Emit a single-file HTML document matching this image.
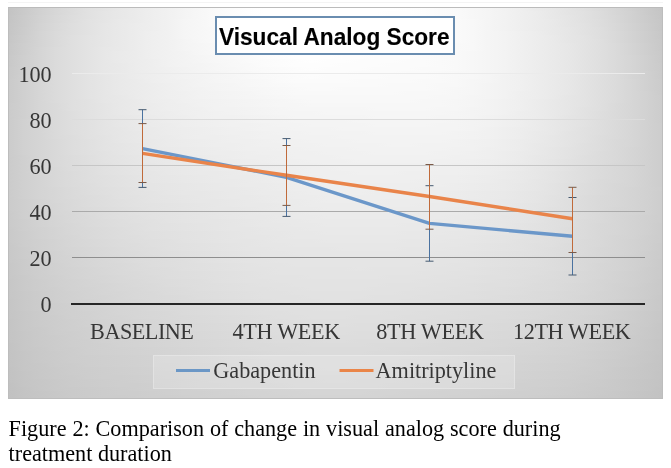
<!DOCTYPE html>
<html><head><meta charset="utf-8"><title>Visucal Analog Score</title>
<style>
html,body{margin:0;padding:0;background:#fff;}
body{width:671px;height:468px;position:relative;overflow:hidden;}
.abs{position:absolute;}
#topline{left:8px;top:2px;width:655px;height:1px;background:#f4f4f4;}
#chart{left:8px;top:7px;width:655px;height:392px;box-sizing:border-box;
  background-image:linear-gradient(90deg,#c3c3c3 0px,#cacaca 16px,#d1d1d1 32px,#d7d7d7 48px,#dcdcdc 64px,#e1e1e1 80px,#e4e4e4 96px,#e8e8e8 112px,#ebebeb 128px,#eeeeee 144px,#f1f1f1 160px,#f4f4f4 176px,#f7f7f7 192px,#fafafa 208px,#fcfcfc 224px,#fefefe 240px,#ffffff 256px,#ffffff 272px,#ffffff 288px,#ffffff 304px,#ffffff 320px,#ffffff 336px,#ffffff 352px,#ffffff 368px,#ffffff 384px,#fefefe 400px,#fdfdfd 416px,#fbfbfb 432px,#fafafa 448px,#f7f7f7 464px,#f5f5f5 480px,#f2f2f2 496px,#efefef 512px,#ebebeb 528px,#e8e8e8 544px,#e4e4e4 560px,#e0e0e0 576px,#dbdbdb 592px,#d6d6d6 608px,#d0d0d0 624px,#cacaca 640px,#c4c4c4 655px),linear-gradient(90deg,#c3c3c3 0px,#cacaca 16px,#d1d1d1 32px,#d7d7d7 48px,#dcdcdc 64px,#e1e1e1 80px,#e5e5e5 96px,#e8e8e8 112px,#ebebeb 128px,#eeeeee 144px,#f1f1f1 160px,#f4f4f4 176px,#f7f7f7 192px,#fafafa 208px,#fcfcfc 224px,#fefefe 240px,#ffffff 256px,#ffffff 272px,#ffffff 288px,#ffffff 304px,#ffffff 320px,#ffffff 336px,#ffffff 352px,#ffffff 368px,#fefefe 384px,#fefefe 400px,#fdfdfd 416px,#fbfbfb 432px,#fafafa 448px,#f7f7f7 464px,#f5f5f5 480px,#f2f2f2 496px,#efefef 512px,#ececec 528px,#e8e8e8 544px,#e4e4e4 560px,#e1e1e1 576px,#dcdcdc 592px,#d6d6d6 608px,#d1d1d1 624px,#cacaca 640px,#c5c5c5 655px),linear-gradient(90deg,#c4c4c4 0px,#cbcbcb 16px,#d2d2d2 32px,#d8d8d8 48px,#dddddd 64px,#e1e1e1 80px,#e5e5e5 96px,#e8e8e8 112px,#ebebeb 128px,#eeeeee 144px,#f1f1f1 160px,#f4f4f4 176px,#f7f7f7 192px,#fafafa 208px,#fcfcfc 224px,#fdfdfd 240px,#ffffff 256px,#ffffff 272px,#ffffff 288px,#ffffff 304px,#ffffff 320px,#ffffff 336px,#ffffff 352px,#ffffff 368px,#fefefe 384px,#fefefe 400px,#fdfdfd 416px,#fbfbfb 432px,#fafafa 448px,#f7f7f7 464px,#f5f5f5 480px,#f2f2f2 496px,#efefef 512px,#ececec 528px,#e8e8e8 544px,#e5e5e5 560px,#e1e1e1 576px,#dcdcdc 592px,#d7d7d7 608px,#d1d1d1 624px,#cbcbcb 640px,#c5c5c5 655px),linear-gradient(90deg,#c4c4c4 0px,#cbcbcb 16px,#d2d2d2 32px,#d8d8d8 48px,#dddddd 64px,#e2e2e2 80px,#e5e5e5 96px,#e9e9e9 112px,#ebebeb 128px,#eeeeee 144px,#f1f1f1 160px,#f5f5f5 176px,#f7f7f7 192px,#fafafa 208px,#fcfcfc 224px,#fdfdfd 240px,#ffffff 256px,#ffffff 272px,#ffffff 288px,#ffffff 304px,#ffffff 320px,#ffffff 336px,#ffffff 352px,#ffffff 368px,#fefefe 384px,#fefefe 400px,#fdfdfd 416px,#fbfbfb 432px,#fafafa 448px,#f8f8f8 464px,#f5f5f5 480px,#f2f2f2 496px,#efefef 512px,#ececec 528px,#e9e9e9 544px,#e5e5e5 560px,#e1e1e1 576px,#dddddd 592px,#d7d7d7 608px,#d1d1d1 624px,#cbcbcb 640px,#c6c6c6 655px),linear-gradient(90deg,#c5c5c5 0px,#cbcbcb 16px,#d3d3d3 32px,#d9d9d9 48px,#dedede 64px,#e2e2e2 80px,#e6e6e6 96px,#e9e9e9 112px,#ececec 128px,#eeeeee 144px,#f1f1f1 160px,#f5f5f5 176px,#f7f7f7 192px,#fafafa 208px,#fcfcfc 224px,#fdfdfd 240px,#fefefe 256px,#ffffff 272px,#ffffff 288px,#ffffff 304px,#ffffff 320px,#ffffff 336px,#ffffff 352px,#fefefe 368px,#fefefe 384px,#fefefe 400px,#fdfdfd 416px,#fbfbfb 432px,#fafafa 448px,#f8f8f8 464px,#f5f5f5 480px,#f2f2f2 496px,#efefef 512px,#ececec 528px,#e9e9e9 544px,#e5e5e5 560px,#e2e2e2 576px,#dddddd 592px,#d8d8d8 608px,#d2d2d2 624px,#cccccc 640px,#c6c6c6 655px),linear-gradient(90deg,#c5c5c5 0px,#cccccc 16px,#d3d3d3 32px,#d9d9d9 48px,#dedede 64px,#e2e2e2 80px,#e6e6e6 96px,#e9e9e9 112px,#ececec 128px,#eeeeee 144px,#f1f1f1 160px,#f5f5f5 176px,#f7f7f7 192px,#f9f9f9 208px,#fbfbfb 224px,#fdfdfd 240px,#fefefe 256px,#ffffff 272px,#ffffff 288px,#ffffff 304px,#ffffff 320px,#ffffff 336px,#ffffff 352px,#fefefe 368px,#fefefe 384px,#fdfdfd 400px,#fdfdfd 416px,#fbfbfb 432px,#fafafa 448px,#f8f8f8 464px,#f5f5f5 480px,#f2f2f2 496px,#efefef 512px,#ececec 528px,#e9e9e9 544px,#e6e6e6 560px,#e2e2e2 576px,#dedede 592px,#d8d8d8 608px,#d2d2d2 624px,#cccccc 640px,#c6c6c6 655px),linear-gradient(90deg,#c5c5c5 0px,#cccccc 16px,#d4d4d4 32px,#dadada 48px,#dedede 64px,#e2e2e2 80px,#e6e6e6 96px,#e9e9e9 112px,#ececec 128px,#efefef 144px,#f1f1f1 160px,#f5f5f5 176px,#f7f7f7 192px,#f9f9f9 208px,#fbfbfb 224px,#fdfdfd 240px,#fefefe 256px,#ffffff 272px,#ffffff 288px,#ffffff 304px,#ffffff 320px,#ffffff 336px,#fefefe 352px,#fefefe 368px,#fefefe 384px,#fdfdfd 400px,#fcfcfc 416px,#fbfbfb 432px,#fafafa 448px,#f8f8f8 464px,#f5f5f5 480px,#f3f3f3 496px,#f0f0f0 512px,#ededed 528px,#e9e9e9 544px,#e6e6e6 560px,#e2e2e2 576px,#dedede 592px,#d9d9d9 608px,#d3d3d3 624px,#cdcdcd 640px,#c7c7c7 655px),linear-gradient(90deg,#c6c6c6 0px,#cdcdcd 16px,#d4d4d4 32px,#dadada 48px,#dfdfdf 64px,#e3e3e3 80px,#e6e6e6 96px,#e9e9e9 112px,#ececec 128px,#efefef 144px,#f1f1f1 160px,#f5f5f5 176px,#f7f7f7 192px,#f9f9f9 208px,#fbfbfb 224px,#fcfcfc 240px,#fefefe 256px,#ffffff 272px,#ffffff 288px,#ffffff 304px,#ffffff 320px,#ffffff 336px,#fefefe 352px,#fefefe 368px,#fdfdfd 384px,#fdfdfd 400px,#fcfcfc 416px,#fbfbfb 432px,#fafafa 448px,#f8f8f8 464px,#f5f5f5 480px,#f3f3f3 496px,#f0f0f0 512px,#ededed 528px,#eaeaea 544px,#e6e6e6 560px,#e3e3e3 576px,#dedede 592px,#d9d9d9 608px,#d3d3d3 624px,#cdcdcd 640px,#c7c7c7 655px),linear-gradient(90deg,#c6c6c6 0px,#cdcdcd 16px,#d4d4d4 32px,#dadada 48px,#dfdfdf 64px,#e3e3e3 80px,#e6e6e6 96px,#e9e9e9 112px,#ececec 128px,#efefef 144px,#f1f1f1 160px,#f4f4f4 176px,#f7f7f7 192px,#f9f9f9 208px,#fbfbfb 224px,#fcfcfc 240px,#fdfdfd 256px,#fefefe 272px,#ffffff 288px,#ffffff 304px,#ffffff 320px,#fefefe 336px,#fefefe 352px,#fefefe 368px,#fdfdfd 384px,#fdfdfd 400px,#fcfcfc 416px,#fbfbfb 432px,#fafafa 448px,#f8f8f8 464px,#f5f5f5 480px,#f3f3f3 496px,#f0f0f0 512px,#ededed 528px,#eaeaea 544px,#e6e6e6 560px,#e3e3e3 576px,#dfdfdf 592px,#d9d9d9 608px,#d3d3d3 624px,#cdcdcd 640px,#c8c8c8 655px),linear-gradient(90deg,#c7c7c7 0px,#cecece 16px,#d4d4d4 32px,#dadada 48px,#dfdfdf 64px,#e3e3e3 80px,#e6e6e6 96px,#e9e9e9 112px,#ececec 128px,#efefef 144px,#f1f1f1 160px,#f4f4f4 176px,#f6f6f6 192px,#f8f8f8 208px,#fafafa 224px,#fcfcfc 240px,#fdfdfd 256px,#fefefe 272px,#ffffff 288px,#ffffff 304px,#ffffff 320px,#fefefe 336px,#fefefe 352px,#fdfdfd 368px,#fdfdfd 384px,#fdfdfd 400px,#fcfcfc 416px,#fbfbfb 432px,#f9f9f9 448px,#f8f8f8 464px,#f5f5f5 480px,#f3f3f3 496px,#f0f0f0 512px,#ededed 528px,#eaeaea 544px,#e7e7e7 560px,#e3e3e3 576px,#dfdfdf 592px,#dadada 608px,#d4d4d4 624px,#cecece 640px,#c8c8c8 655px),linear-gradient(90deg,#c7c7c7 0px,#cecece 16px,#d5d5d5 32px,#dbdbdb 48px,#dfdfdf 64px,#e3e3e3 80px,#e7e7e7 96px,#e9e9e9 112px,#ececec 128px,#efefef 144px,#f1f1f1 160px,#f4f4f4 176px,#f6f6f6 192px,#f8f8f8 208px,#fafafa 224px,#fbfbfb 240px,#fdfdfd 256px,#fefefe 272px,#fefefe 288px,#ffffff 304px,#fefefe 320px,#fefefe 336px,#fdfdfd 352px,#fdfdfd 368px,#fdfdfd 384px,#fcfcfc 400px,#fcfcfc 416px,#fbfbfb 432px,#f9f9f9 448px,#f8f8f8 464px,#f5f5f5 480px,#f3f3f3 496px,#f0f0f0 512px,#ededed 528px,#eaeaea 544px,#e7e7e7 560px,#e3e3e3 576px,#dfdfdf 592px,#dadada 608px,#d4d4d4 624px,#cecece 640px,#c8c8c8 655px),linear-gradient(90deg,#c7c7c7 0px,#cecece 16px,#d5d5d5 32px,#dbdbdb 48px,#dfdfdf 64px,#e3e3e3 80px,#e7e7e7 96px,#eaeaea 112px,#ececec 128px,#efefef 144px,#f1f1f1 160px,#f3f3f3 176px,#f6f6f6 192px,#f8f8f8 208px,#f9f9f9 224px,#fbfbfb 240px,#fcfcfc 256px,#fdfdfd 272px,#fefefe 288px,#fefefe 304px,#fefefe 320px,#fefefe 336px,#fdfdfd 352px,#fdfdfd 368px,#fcfcfc 384px,#fcfcfc 400px,#fbfbfb 416px,#fbfbfb 432px,#f9f9f9 448px,#f7f7f7 464px,#f5f5f5 480px,#f3f3f3 496px,#f0f0f0 512px,#ededed 528px,#eaeaea 544px,#e7e7e7 560px,#e3e3e3 576px,#dfdfdf 592px,#dadada 608px,#d4d4d4 624px,#cecece 640px,#c9c9c9 655px),linear-gradient(90deg,#c8c8c8 0px,#cfcfcf 16px,#d5d5d5 32px,#dbdbdb 48px,#dfdfdf 64px,#e3e3e3 80px,#e7e7e7 96px,#eaeaea 112px,#ececec 128px,#efefef 144px,#f1f1f1 160px,#f3f3f3 176px,#f5f5f5 192px,#f7f7f7 208px,#f9f9f9 224px,#fafafa 240px,#fcfcfc 256px,#fdfdfd 272px,#fefefe 288px,#fefefe 304px,#fefefe 320px,#fdfdfd 336px,#fdfdfd 352px,#fcfcfc 368px,#fcfcfc 384px,#fcfcfc 400px,#fbfbfb 416px,#fafafa 432px,#f9f9f9 448px,#f7f7f7 464px,#f5f5f5 480px,#f3f3f3 496px,#f0f0f0 512px,#ededed 528px,#eaeaea 544px,#e7e7e7 560px,#e3e3e3 576px,#dfdfdf 592px,#dadada 608px,#d5d5d5 624px,#cfcfcf 640px,#c9c9c9 655px),linear-gradient(90deg,#c8c8c8 0px,#cfcfcf 16px,#d5d5d5 32px,#dbdbdb 48px,#dfdfdf 64px,#e3e3e3 80px,#e7e7e7 96px,#eaeaea 112px,#ececec 128px,#eeeeee 144px,#f1f1f1 160px,#f3f3f3 176px,#f5f5f5 192px,#f7f7f7 208px,#f8f8f8 224px,#fafafa 240px,#fbfbfb 256px,#fcfcfc 272px,#fdfdfd 288px,#fefefe 304px,#fdfdfd 320px,#fdfdfd 336px,#fcfcfc 352px,#fcfcfc 368px,#fcfcfc 384px,#fbfbfb 400px,#fbfbfb 416px,#fafafa 432px,#f9f9f9 448px,#f7f7f7 464px,#f5f5f5 480px,#f3f3f3 496px,#f0f0f0 512px,#ededed 528px,#eaeaea 544px,#e7e7e7 560px,#e3e3e3 576px,#dfdfdf 592px,#dadada 608px,#d5d5d5 624px,#cfcfcf 640px,#c9c9c9 655px),linear-gradient(90deg,#c8c8c8 0px,#cfcfcf 16px,#d5d5d5 32px,#dbdbdb 48px,#dfdfdf 64px,#e3e3e3 80px,#e7e7e7 96px,#e9e9e9 112px,#ececec 128px,#eeeeee 144px,#f1f1f1 160px,#f3f3f3 176px,#f4f4f4 192px,#f6f6f6 208px,#f8f8f8 224px,#f9f9f9 240px,#fbfbfb 256px,#fcfcfc 272px,#fdfdfd 288px,#fdfdfd 304px,#fdfdfd 320px,#fcfcfc 336px,#fcfcfc 352px,#fcfcfc 368px,#fbfbfb 384px,#fbfbfb 400px,#fbfbfb 416px,#fafafa 432px,#f9f9f9 448px,#f7f7f7 464px,#f5f5f5 480px,#f3f3f3 496px,#f0f0f0 512px,#ededed 528px,#eaeaea 544px,#e7e7e7 560px,#e3e3e3 576px,#dfdfdf 592px,#dadada 608px,#d5d5d5 624px,#cfcfcf 640px,#cacaca 655px),linear-gradient(90deg,#c9c9c9 0px,#cfcfcf 16px,#d5d5d5 32px,#dbdbdb 48px,#dfdfdf 64px,#e3e3e3 80px,#e7e7e7 96px,#e9e9e9 112px,#ececec 128px,#eeeeee 144px,#f0f0f0 160px,#f2f2f2 176px,#f4f4f4 192px,#f6f6f6 208px,#f7f7f7 224px,#f9f9f9 240px,#fafafa 256px,#fbfbfb 272px,#fcfcfc 288px,#fdfdfd 304px,#fcfcfc 320px,#fcfcfc 336px,#fcfcfc 352px,#fbfbfb 368px,#fbfbfb 384px,#fbfbfb 400px,#fafafa 416px,#fafafa 432px,#f9f9f9 448px,#f7f7f7 464px,#f5f5f5 480px,#f3f3f3 496px,#f0f0f0 512px,#ededed 528px,#eaeaea 544px,#e7e7e7 560px,#e3e3e3 576px,#dfdfdf 592px,#dadada 608px,#d5d5d5 624px,#cfcfcf 640px,#cacaca 655px),linear-gradient(90deg,#c9c9c9 0px,#cfcfcf 16px,#d5d5d5 32px,#dbdbdb 48px,#dfdfdf 64px,#e3e3e3 80px,#e7e7e7 96px,#e9e9e9 112px,#ececec 128px,#eeeeee 144px,#f0f0f0 160px,#f2f2f2 176px,#f4f4f4 192px,#f5f5f5 208px,#f7f7f7 224px,#f8f8f8 240px,#fafafa 256px,#fbfbfb 272px,#fcfcfc 288px,#fcfcfc 304px,#fcfcfc 320px,#fcfcfc 336px,#fbfbfb 352px,#fbfbfb 368px,#fbfbfb 384px,#fafafa 400px,#fafafa 416px,#f9f9f9 432px,#f8f8f8 448px,#f7f7f7 464px,#f5f5f5 480px,#f3f3f3 496px,#f0f0f0 512px,#ededed 528px,#eaeaea 544px,#e7e7e7 560px,#e3e3e3 576px,#dfdfdf 592px,#dadada 608px,#d5d5d5 624px,#d0d0d0 640px,#cacaca 655px),linear-gradient(90deg,#c9c9c9 0px,#d0d0d0 16px,#d6d6d6 32px,#dbdbdb 48px,#dfdfdf 64px,#e3e3e3 80px,#e6e6e6 96px,#e9e9e9 112px,#ececec 128px,#eeeeee 144px,#f0f0f0 160px,#f2f2f2 176px,#f3f3f3 192px,#f5f5f5 208px,#f6f6f6 224px,#f8f8f8 240px,#f9f9f9 256px,#fafafa 272px,#fbfbfb 288px,#fcfcfc 304px,#fbfbfb 320px,#fbfbfb 336px,#fbfbfb 352px,#fbfbfb 368px,#fafafa 384px,#fafafa 400px,#fafafa 416px,#f9f9f9 432px,#f8f8f8 448px,#f7f7f7 464px,#f5f5f5 480px,#f2f2f2 496px,#f0f0f0 512px,#ededed 528px,#eaeaea 544px,#e7e7e7 560px,#e3e3e3 576px,#dfdfdf 592px,#dbdbdb 608px,#d5d5d5 624px,#d0d0d0 640px,#cacaca 655px),linear-gradient(90deg,#cacaca 0px,#d0d0d0 16px,#d6d6d6 32px,#dbdbdb 48px,#dfdfdf 64px,#e3e3e3 80px,#e6e6e6 96px,#e9e9e9 112px,#ebebeb 128px,#eeeeee 144px,#f0f0f0 160px,#f1f1f1 176px,#f3f3f3 192px,#f5f5f5 208px,#f6f6f6 224px,#f7f7f7 240px,#f8f8f8 256px,#fafafa 272px,#fbfbfb 288px,#fbfbfb 304px,#fbfbfb 320px,#fbfbfb 336px,#fafafa 352px,#fafafa 368px,#fafafa 384px,#fafafa 400px,#f9f9f9 416px,#f9f9f9 432px,#f8f8f8 448px,#f6f6f6 464px,#f5f5f5 480px,#f2f2f2 496px,#f0f0f0 512px,#ededed 528px,#eaeaea 544px,#e7e7e7 560px,#e3e3e3 576px,#dfdfdf 592px,#dbdbdb 608px,#d6d6d6 624px,#d0d0d0 640px,#cbcbcb 655px),linear-gradient(90deg,#cacaca 0px,#d0d0d0 16px,#d6d6d6 32px,#dbdbdb 48px,#dfdfdf 64px,#e3e3e3 80px,#e6e6e6 96px,#e9e9e9 112px,#ebebeb 128px,#ededed 144px,#efefef 160px,#f1f1f1 176px,#f3f3f3 192px,#f4f4f4 208px,#f5f5f5 224px,#f7f7f7 240px,#f8f8f8 256px,#f9f9f9 272px,#fafafa 288px,#fafafa 304px,#fafafa 320px,#fafafa 336px,#fafafa 352px,#fafafa 368px,#f9f9f9 384px,#f9f9f9 400px,#f9f9f9 416px,#f8f8f8 432px,#f8f8f8 448px,#f6f6f6 464px,#f4f4f4 480px,#f2f2f2 496px,#f0f0f0 512px,#ededed 528px,#eaeaea 544px,#e7e7e7 560px,#e3e3e3 576px,#dfdfdf 592px,#dbdbdb 608px,#d6d6d6 624px,#d0d0d0 640px,#cbcbcb 655px),linear-gradient(90deg,#cacaca 0px,#d0d0d0 16px,#d6d6d6 32px,#dbdbdb 48px,#dfdfdf 64px,#e3e3e3 80px,#e6e6e6 96px,#e9e9e9 112px,#ebebeb 128px,#ededed 144px,#efefef 160px,#f1f1f1 176px,#f2f2f2 192px,#f4f4f4 208px,#f5f5f5 224px,#f6f6f6 240px,#f7f7f7 256px,#f8f8f8 272px,#f9f9f9 288px,#fafafa 304px,#fafafa 320px,#f9f9f9 336px,#f9f9f9 352px,#f9f9f9 368px,#f9f9f9 384px,#f9f9f9 400px,#f9f9f9 416px,#f8f8f8 432px,#f7f7f7 448px,#f6f6f6 464px,#f4f4f4 480px,#f2f2f2 496px,#f0f0f0 512px,#ededed 528px,#eaeaea 544px,#e7e7e7 560px,#e3e3e3 576px,#dfdfdf 592px,#dbdbdb 608px,#d6d6d6 624px,#d0d0d0 640px,#cbcbcb 655px),linear-gradient(90deg,#cacaca 0px,#d0d0d0 16px,#d6d6d6 32px,#dbdbdb 48px,#dfdfdf 64px,#e3e3e3 80px,#e6e6e6 96px,#e9e9e9 112px,#ebebeb 128px,#ededed 144px,#efefef 160px,#f0f0f0 176px,#f2f2f2 192px,#f3f3f3 208px,#f4f4f4 224px,#f5f5f5 240px,#f7f7f7 256px,#f8f8f8 272px,#f9f9f9 288px,#f9f9f9 304px,#f9f9f9 320px,#f9f9f9 336px,#f9f9f9 352px,#f9f9f9 368px,#f9f9f9 384px,#f8f8f8 400px,#f8f8f8 416px,#f8f8f8 432px,#f7f7f7 448px,#f6f6f6 464px,#f4f4f4 480px,#f2f2f2 496px,#efefef 512px,#ededed 528px,#eaeaea 544px,#e7e7e7 560px,#e3e3e3 576px,#dfdfdf 592px,#dbdbdb 608px,#d6d6d6 624px,#d1d1d1 640px,#cbcbcb 655px),linear-gradient(90deg,#cacaca 0px,#d0d0d0 16px,#d6d6d6 32px,#dbdbdb 48px,#dfdfdf 64px,#e3e3e3 80px,#e6e6e6 96px,#e8e8e8 112px,#ebebeb 128px,#ededed 144px,#efefef 160px,#f0f0f0 176px,#f2f2f2 192px,#f3f3f3 208px,#f4f4f4 224px,#f5f5f5 240px,#f6f6f6 256px,#f7f7f7 272px,#f8f8f8 288px,#f8f8f8 304px,#f8f8f8 320px,#f8f8f8 336px,#f8f8f8 352px,#f8f8f8 368px,#f8f8f8 384px,#f8f8f8 400px,#f8f8f8 416px,#f7f7f7 432px,#f7f7f7 448px,#f5f5f5 464px,#f4f4f4 480px,#f2f2f2 496px,#efefef 512px,#ededed 528px,#eaeaea 544px,#e6e6e6 560px,#e3e3e3 576px,#dfdfdf 592px,#dbdbdb 608px,#d6d6d6 624px,#d1d1d1 640px,#cccccc 655px),linear-gradient(90deg,#cacaca 0px,#d0d0d0 16px,#d6d6d6 32px,#dbdbdb 48px,#dfdfdf 64px,#e2e2e2 80px,#e6e6e6 96px,#e8e8e8 112px,#eaeaea 128px,#ededed 144px,#eeeeee 160px,#f0f0f0 176px,#f1f1f1 192px,#f2f2f2 208px,#f3f3f3 224px,#f4f4f4 240px,#f5f5f5 256px,#f6f6f6 272px,#f7f7f7 288px,#f8f8f8 304px,#f8f8f8 320px,#f8f8f8 336px,#f8f8f8 352px,#f8f8f8 368px,#f8f8f8 384px,#f8f8f8 400px,#f7f7f7 416px,#f7f7f7 432px,#f6f6f6 448px,#f5f5f5 464px,#f3f3f3 480px,#f1f1f1 496px,#efefef 512px,#ececec 528px,#e9e9e9 544px,#e6e6e6 560px,#e3e3e3 576px,#dfdfdf 592px,#dbdbdb 608px,#d6d6d6 624px,#d1d1d1 640px,#cccccc 655px),linear-gradient(90deg,#cbcbcb 0px,#d0d0d0 16px,#d6d6d6 32px,#dadada 48px,#dfdfdf 64px,#e2e2e2 80px,#e5e5e5 96px,#e8e8e8 112px,#eaeaea 128px,#ececec 144px,#eeeeee 160px,#efefef 176px,#f1f1f1 192px,#f2f2f2 208px,#f3f3f3 224px,#f4f4f4 240px,#f5f5f5 256px,#f6f6f6 272px,#f6f6f6 288px,#f7f7f7 304px,#f7f7f7 320px,#f7f7f7 336px,#f7f7f7 352px,#f7f7f7 368px,#f7f7f7 384px,#f7f7f7 400px,#f7f7f7 416px,#f7f7f7 432px,#f6f6f6 448px,#f5f5f5 464px,#f3f3f3 480px,#f1f1f1 496px,#efefef 512px,#ececec 528px,#e9e9e9 544px,#e6e6e6 560px,#e3e3e3 576px,#dfdfdf 592px,#dadada 608px,#d6d6d6 624px,#d1d1d1 640px,#cccccc 655px),linear-gradient(90deg,#cbcbcb 0px,#d0d0d0 16px,#d6d6d6 32px,#dadada 48px,#dfdfdf 64px,#e2e2e2 80px,#e5e5e5 96px,#e8e8e8 112px,#eaeaea 128px,#ececec 144px,#eeeeee 160px,#efefef 176px,#f0f0f0 192px,#f2f2f2 208px,#f2f2f2 224px,#f3f3f3 240px,#f4f4f4 256px,#f5f5f5 272px,#f6f6f6 288px,#f6f6f6 304px,#f6f6f6 320px,#f6f6f6 336px,#f6f6f6 352px,#f7f7f7 368px,#f7f7f7 384px,#f7f7f7 400px,#f7f7f7 416px,#f6f6f6 432px,#f6f6f6 448px,#f4f4f4 464px,#f3f3f3 480px,#f1f1f1 496px,#efefef 512px,#ececec 528px,#e9e9e9 544px,#e6e6e6 560px,#e2e2e2 576px,#dfdfdf 592px,#dadada 608px,#d6d6d6 624px,#d1d1d1 640px,#cccccc 655px),linear-gradient(90deg,#cbcbcb 0px,#d0d0d0 16px,#d6d6d6 32px,#dadada 48px,#dedede 64px,#e2e2e2 80px,#e5e5e5 96px,#e8e8e8 112px,#eaeaea 128px,#ececec 144px,#ededed 160px,#efefef 176px,#f0f0f0 192px,#f1f1f1 208px,#f2f2f2 224px,#f3f3f3 240px,#f4f4f4 256px,#f5f5f5 272px,#f5f5f5 288px,#f5f5f5 304px,#f6f6f6 320px,#f6f6f6 336px,#f6f6f6 352px,#f6f6f6 368px,#f6f6f6 384px,#f6f6f6 400px,#f6f6f6 416px,#f6f6f6 432px,#f5f5f5 448px,#f4f4f4 464px,#f3f3f3 480px,#f1f1f1 496px,#eeeeee 512px,#ececec 528px,#e9e9e9 544px,#e6e6e6 560px,#e2e2e2 576px,#dedede 592px,#dadada 608px,#d6d6d6 624px,#d1d1d1 640px,#cccccc 655px),linear-gradient(90deg,#cbcbcb 0px,#d0d0d0 16px,#d6d6d6 32px,#dadada 48px,#dedede 64px,#e2e2e2 80px,#e5e5e5 96px,#e7e7e7 112px,#e9e9e9 128px,#ebebeb 144px,#ededed 160px,#eeeeee 176px,#f0f0f0 192px,#f1f1f1 208px,#f1f1f1 224px,#f2f2f2 240px,#f3f3f3 256px,#f4f4f4 272px,#f5f5f5 288px,#f5f5f5 304px,#f5f5f5 320px,#f5f5f5 336px,#f5f5f5 352px,#f6f6f6 368px,#f6f6f6 384px,#f6f6f6 400px,#f6f6f6 416px,#f5f5f5 432px,#f5f5f5 448px,#f4f4f4 464px,#f2f2f2 480px,#f0f0f0 496px,#eeeeee 512px,#ececec 528px,#e9e9e9 544px,#e5e5e5 560px,#e2e2e2 576px,#dedede 592px,#dadada 608px,#d6d6d6 624px,#d1d1d1 640px,#cccccc 655px),linear-gradient(90deg,#cbcbcb 0px,#d1d1d1 16px,#d6d6d6 32px,#dadada 48px,#dedede 64px,#e1e1e1 80px,#e4e4e4 96px,#e7e7e7 112px,#e9e9e9 128px,#ebebeb 144px,#ededed 160px,#eeeeee 176px,#efefef 192px,#f0f0f0 208px,#f1f1f1 224px,#f2f2f2 240px,#f3f3f3 256px,#f3f3f3 272px,#f4f4f4 288px,#f4f4f4 304px,#f4f4f4 320px,#f4f4f4 336px,#f5f5f5 352px,#f5f5f5 368px,#f5f5f5 384px,#f5f5f5 400px,#f5f5f5 416px,#f5f5f5 432px,#f4f4f4 448px,#f3f3f3 464px,#f2f2f2 480px,#f0f0f0 496px,#eeeeee 512px,#ebebeb 528px,#e8e8e8 544px,#e5e5e5 560px,#e2e2e2 576px,#dedede 592px,#dadada 608px,#d6d6d6 624px,#d1d1d1 640px,#cccccc 655px),linear-gradient(90deg,#cbcbcb 0px,#d1d1d1 16px,#d6d6d6 32px,#dadada 48px,#dedede 64px,#e1e1e1 80px,#e4e4e4 96px,#e7e7e7 112px,#e9e9e9 128px,#ebebeb 144px,#ececec 160px,#eeeeee 176px,#efefef 192px,#f0f0f0 208px,#f1f1f1 224px,#f1f1f1 240px,#f2f2f2 256px,#f3f3f3 272px,#f3f3f3 288px,#f4f4f4 304px,#f4f4f4 320px,#f4f4f4 336px,#f4f4f4 352px,#f5f5f5 368px,#f5f5f5 384px,#f5f5f5 400px,#f5f5f5 416px,#f4f4f4 432px,#f4f4f4 448px,#f3f3f3 464px,#f2f2f2 480px,#f0f0f0 496px,#eeeeee 512px,#ebebeb 528px,#e8e8e8 544px,#e5e5e5 560px,#e2e2e2 576px,#dedede 592px,#dadada 608px,#d6d6d6 624px,#d1d1d1 640px,#cdcdcd 655px),linear-gradient(90deg,#cbcbcb 0px,#d1d1d1 16px,#d5d5d5 32px,#dadada 48px,#dedede 64px,#e1e1e1 80px,#e4e4e4 96px,#e6e6e6 112px,#e9e9e9 128px,#eaeaea 144px,#ececec 160px,#ededed 176px,#eeeeee 192px,#efefef 208px,#f0f0f0 224px,#f1f1f1 240px,#f2f2f2 256px,#f2f2f2 272px,#f3f3f3 288px,#f3f3f3 304px,#f3f3f3 320px,#f4f4f4 336px,#f4f4f4 352px,#f4f4f4 368px,#f4f4f4 384px,#f4f4f4 400px,#f4f4f4 416px,#f4f4f4 432px,#f4f4f4 448px,#f3f3f3 464px,#f1f1f1 480px,#efefef 496px,#ededed 512px,#ebebeb 528px,#e8e8e8 544px,#e5e5e5 560px,#e1e1e1 576px,#dedede 592px,#dadada 608px,#d6d6d6 624px,#d1d1d1 640px,#cdcdcd 655px),linear-gradient(90deg,#cbcbcb 0px,#d1d1d1 16px,#d5d5d5 32px,#dadada 48px,#dedede 64px,#e1e1e1 80px,#e4e4e4 96px,#e6e6e6 112px,#e8e8e8 128px,#eaeaea 144px,#ececec 160px,#ededed 176px,#eeeeee 192px,#efefef 208px,#f0f0f0 224px,#f0f0f0 240px,#f1f1f1 256px,#f2f2f2 272px,#f2f2f2 288px,#f3f3f3 304px,#f3f3f3 320px,#f3f3f3 336px,#f3f3f3 352px,#f4f4f4 368px,#f4f4f4 384px,#f4f4f4 400px,#f4f4f4 416px,#f4f4f4 432px,#f3f3f3 448px,#f2f2f2 464px,#f1f1f1 480px,#efefef 496px,#ededed 512px,#eaeaea 528px,#e8e8e8 544px,#e4e4e4 560px,#e1e1e1 576px,#dedede 592px,#dadada 608px,#d6d6d6 624px,#d1d1d1 640px,#cdcdcd 655px),linear-gradient(90deg,#cbcbcb 0px,#d1d1d1 16px,#d5d5d5 32px,#dadada 48px,#dddddd 64px,#e1e1e1 80px,#e3e3e3 96px,#e6e6e6 112px,#e8e8e8 128px,#eaeaea 144px,#ebebeb 160px,#ededed 176px,#eeeeee 192px,#eeeeee 208px,#efefef 224px,#f0f0f0 240px,#f1f1f1 256px,#f1f1f1 272px,#f2f2f2 288px,#f2f2f2 304px,#f2f2f2 320px,#f3f3f3 336px,#f3f3f3 352px,#f3f3f3 368px,#f3f3f3 384px,#f3f3f3 400px,#f3f3f3 416px,#f3f3f3 432px,#f3f3f3 448px,#f2f2f2 464px,#f1f1f1 480px,#efefef 496px,#ededed 512px,#eaeaea 528px,#e7e7e7 544px,#e4e4e4 560px,#e1e1e1 576px,#dddddd 592px,#dadada 608px,#d6d6d6 624px,#d1d1d1 640px,#cdcdcd 655px),linear-gradient(90deg,#cbcbcb 0px,#d1d1d1 16px,#d5d5d5 32px,#d9d9d9 48px,#dddddd 64px,#e0e0e0 80px,#e3e3e3 96px,#e6e6e6 112px,#e8e8e8 128px,#e9e9e9 144px,#ebebeb 160px,#ececec 176px,#ededed 192px,#eeeeee 208px,#efefef 224px,#efefef 240px,#f0f0f0 256px,#f1f1f1 272px,#f1f1f1 288px,#f2f2f2 304px,#f2f2f2 320px,#f2f2f2 336px,#f3f3f3 352px,#f3f3f3 368px,#f3f3f3 384px,#f3f3f3 400px,#f3f3f3 416px,#f3f3f3 432px,#f2f2f2 448px,#f1f1f1 464px,#f0f0f0 480px,#eeeeee 496px,#ececec 512px,#eaeaea 528px,#e7e7e7 544px,#e4e4e4 560px,#e1e1e1 576px,#dddddd 592px,#d9d9d9 608px,#d6d6d6 624px,#d1d1d1 640px,#cdcdcd 655px),linear-gradient(90deg,#cbcbcb 0px,#d1d1d1 16px,#d5d5d5 32px,#d9d9d9 48px,#dddddd 64px,#e0e0e0 80px,#e3e3e3 96px,#e5e5e5 112px,#e7e7e7 128px,#e9e9e9 144px,#ebebeb 160px,#ececec 176px,#ededed 192px,#eeeeee 208px,#eeeeee 224px,#efefef 240px,#f0f0f0 256px,#f0f0f0 272px,#f1f1f1 288px,#f1f1f1 304px,#f2f2f2 320px,#f2f2f2 336px,#f2f2f2 352px,#f2f2f2 368px,#f3f3f3 384px,#f3f3f3 400px,#f2f2f2 416px,#f2f2f2 432px,#f2f2f2 448px,#f1f1f1 464px,#f0f0f0 480px,#eeeeee 496px,#ececec 512px,#e9e9e9 528px,#e7e7e7 544px,#e4e4e4 560px,#e0e0e0 576px,#dddddd 592px,#d9d9d9 608px,#d6d6d6 624px,#d1d1d1 640px,#cdcdcd 655px),linear-gradient(90deg,#cbcbcb 0px,#d1d1d1 16px,#d5d5d5 32px,#d9d9d9 48px,#dddddd 64px,#e0e0e0 80px,#e3e3e3 96px,#e5e5e5 112px,#e7e7e7 128px,#e9e9e9 144px,#eaeaea 160px,#ebebeb 176px,#ececec 192px,#ededed 208px,#eeeeee 224px,#efefef 240px,#efefef 256px,#f0f0f0 272px,#f0f0f0 288px,#f1f1f1 304px,#f1f1f1 320px,#f1f1f1 336px,#f2f2f2 352px,#f2f2f2 368px,#f2f2f2 384px,#f2f2f2 400px,#f2f2f2 416px,#f2f2f2 432px,#f1f1f1 448px,#f1f1f1 464px,#efefef 480px,#eeeeee 496px,#ececec 512px,#e9e9e9 528px,#e6e6e6 544px,#e3e3e3 560px,#e0e0e0 576px,#dddddd 592px,#d9d9d9 608px,#d5d5d5 624px,#d1d1d1 640px,#cdcdcd 655px),linear-gradient(90deg,#cbcbcb 0px,#d1d1d1 16px,#d5d5d5 32px,#d9d9d9 48px,#dddddd 64px,#e0e0e0 80px,#e2e2e2 96px,#e5e5e5 112px,#e7e7e7 128px,#e8e8e8 144px,#eaeaea 160px,#ebebeb 176px,#ececec 192px,#ededed 208px,#ededed 224px,#eeeeee 240px,#efefef 256px,#efefef 272px,#f0f0f0 288px,#f0f0f0 304px,#f1f1f1 320px,#f1f1f1 336px,#f1f1f1 352px,#f2f2f2 368px,#f2f2f2 384px,#f2f2f2 400px,#f2f2f2 416px,#f1f1f1 432px,#f1f1f1 448px,#f0f0f0 464px,#efefef 480px,#ededed 496px,#ebebeb 512px,#e9e9e9 528px,#e6e6e6 544px,#e3e3e3 560px,#e0e0e0 576px,#dcdcdc 592px,#d9d9d9 608px,#d5d5d5 624px,#d1d1d1 640px,#cdcdcd 655px),linear-gradient(90deg,#cbcbcb 0px,#d0d0d0 16px,#d5d5d5 32px,#d9d9d9 48px,#dcdcdc 64px,#dfdfdf 80px,#e2e2e2 96px,#e4e4e4 112px,#e6e6e6 128px,#e8e8e8 144px,#e9e9e9 160px,#eaeaea 176px,#ebebeb 192px,#ececec 208px,#ededed 224px,#eeeeee 240px,#eeeeee 256px,#efefef 272px,#f0f0f0 288px,#f0f0f0 304px,#f0f0f0 320px,#f1f1f1 336px,#f1f1f1 352px,#f1f1f1 368px,#f1f1f1 384px,#f1f1f1 400px,#f1f1f1 416px,#f1f1f1 432px,#f0f0f0 448px,#f0f0f0 464px,#efefef 480px,#ededed 496px,#ebebeb 512px,#e8e8e8 528px,#e6e6e6 544px,#e3e3e3 560px,#dfdfdf 576px,#dcdcdc 592px,#d9d9d9 608px,#d5d5d5 624px,#d1d1d1 640px,#cdcdcd 655px),linear-gradient(90deg,#cbcbcb 0px,#d0d0d0 16px,#d5d5d5 32px,#d9d9d9 48px,#dcdcdc 64px,#dfdfdf 80px,#e2e2e2 96px,#e4e4e4 112px,#e6e6e6 128px,#e8e8e8 144px,#e9e9e9 160px,#eaeaea 176px,#ebebeb 192px,#ececec 208px,#ececec 224px,#ededed 240px,#eeeeee 256px,#efefef 272px,#efefef 288px,#f0f0f0 304px,#f0f0f0 320px,#f0f0f0 336px,#f1f1f1 352px,#f1f1f1 368px,#f1f1f1 384px,#f1f1f1 400px,#f1f1f1 416px,#f0f0f0 432px,#f0f0f0 448px,#efefef 464px,#eeeeee 480px,#ededed 496px,#ebebeb 512px,#e8e8e8 528px,#e5e5e5 544px,#e2e2e2 560px,#dfdfdf 576px,#dcdcdc 592px,#d9d9d9 608px,#d5d5d5 624px,#d1d1d1 640px,#cdcdcd 655px),linear-gradient(90deg,#cbcbcb 0px,#d0d0d0 16px,#d5d5d5 32px,#d9d9d9 48px,#dcdcdc 64px,#dfdfdf 80px,#e1e1e1 96px,#e4e4e4 112px,#e6e6e6 128px,#e7e7e7 144px,#e9e9e9 160px,#eaeaea 176px,#ebebeb 192px,#ebebeb 208px,#ececec 224px,#ededed 240px,#ededed 256px,#eeeeee 272px,#efefef 288px,#efefef 304px,#f0f0f0 320px,#f0f0f0 336px,#f0f0f0 352px,#f0f0f0 368px,#f0f0f0 384px,#f0f0f0 400px,#f0f0f0 416px,#f0f0f0 432px,#efefef 448px,#efefef 464px,#eeeeee 480px,#ececec 496px,#eaeaea 512px,#e8e8e8 528px,#e5e5e5 544px,#e2e2e2 560px,#dfdfdf 576px,#dcdcdc 592px,#d8d8d8 608px,#d5d5d5 624px,#d1d1d1 640px,#cdcdcd 655px),linear-gradient(90deg,#cbcbcb 0px,#d0d0d0 16px,#d5d5d5 32px,#d8d8d8 48px,#dcdcdc 64px,#dedede 80px,#e1e1e1 96px,#e3e3e3 112px,#e5e5e5 128px,#e7e7e7 144px,#e8e8e8 160px,#e9e9e9 176px,#eaeaea 192px,#ebebeb 208px,#ececec 224px,#ececec 240px,#ededed 256px,#eeeeee 272px,#eeeeee 288px,#efefef 304px,#efefef 320px,#f0f0f0 336px,#f0f0f0 352px,#f0f0f0 368px,#f0f0f0 384px,#f0f0f0 400px,#f0f0f0 416px,#efefef 432px,#efefef 448px,#eeeeee 464px,#ededed 480px,#ececec 496px,#eaeaea 512px,#e7e7e7 528px,#e5e5e5 544px,#e2e2e2 560px,#dedede 576px,#dbdbdb 592px,#d8d8d8 608px,#d5d5d5 624px,#d1d1d1 640px,#cdcdcd 655px),linear-gradient(90deg,#cbcbcb 0px,#d0d0d0 16px,#d5d5d5 32px,#d8d8d8 48px,#dbdbdb 64px,#dedede 80px,#e1e1e1 96px,#e3e3e3 112px,#e5e5e5 128px,#e6e6e6 144px,#e8e8e8 160px,#e9e9e9 176px,#eaeaea 192px,#eaeaea 208px,#ebebeb 224px,#ececec 240px,#ededed 256px,#ededed 272px,#eeeeee 288px,#efefef 304px,#efefef 320px,#efefef 336px,#f0f0f0 352px,#f0f0f0 368px,#f0f0f0 384px,#efefef 400px,#efefef 416px,#efefef 432px,#efefef 448px,#eeeeee 464px,#ededed 480px,#ebebeb 496px,#e9e9e9 512px,#e7e7e7 528px,#e4e4e4 544px,#e1e1e1 560px,#dedede 576px,#dbdbdb 592px,#d8d8d8 608px,#d5d5d5 624px,#d1d1d1 640px,#cdcdcd 655px),linear-gradient(90deg,#cbcbcb 0px,#d0d0d0 16px,#d4d4d4 32px,#d8d8d8 48px,#dbdbdb 64px,#dedede 80px,#e0e0e0 96px,#e2e2e2 112px,#e4e4e4 128px,#e6e6e6 144px,#e7e7e7 160px,#e8e8e8 176px,#e9e9e9 192px,#eaeaea 208px,#ebebeb 224px,#ebebeb 240px,#ececec 256px,#ededed 272px,#eeeeee 288px,#eeeeee 304px,#efefef 320px,#efefef 336px,#efefef 352px,#efefef 368px,#efefef 384px,#efefef 400px,#efefef 416px,#eeeeee 432px,#eeeeee 448px,#ededed 464px,#ececec 480px,#ebebeb 496px,#e9e9e9 512px,#e7e7e7 528px,#e4e4e4 544px,#e1e1e1 560px,#dedede 576px,#dbdbdb 592px,#d8d8d8 608px,#d5d5d5 624px,#d1d1d1 640px,#cdcdcd 655px),linear-gradient(90deg,#cbcbcb 0px,#d0d0d0 16px,#d4d4d4 32px,#d8d8d8 48px,#dbdbdb 64px,#dedede 80px,#e0e0e0 96px,#e2e2e2 112px,#e4e4e4 128px,#e6e6e6 144px,#e7e7e7 160px,#e8e8e8 176px,#e9e9e9 192px,#eaeaea 208px,#eaeaea 224px,#ebebeb 240px,#ececec 256px,#ededed 272px,#ededed 288px,#eeeeee 304px,#eeeeee 320px,#efefef 336px,#efefef 352px,#efefef 368px,#efefef 384px,#efefef 400px,#eeeeee 416px,#eeeeee 432px,#eeeeee 448px,#ededed 464px,#ececec 480px,#eaeaea 496px,#e9e9e9 512px,#e6e6e6 528px,#e4e4e4 544px,#e1e1e1 560px,#dedede 576px,#dadada 592px,#d8d8d8 608px,#d5d5d5 624px,#d1d1d1 640px,#cdcdcd 655px),linear-gradient(90deg,#cbcbcb 0px,#d0d0d0 16px,#d4d4d4 32px,#d8d8d8 48px,#dbdbdb 64px,#dddddd 80px,#e0e0e0 96px,#e2e2e2 112px,#e4e4e4 128px,#e5e5e5 144px,#e6e6e6 160px,#e7e7e7 176px,#e8e8e8 192px,#e9e9e9 208px,#eaeaea 224px,#ebebeb 240px,#ebebeb 256px,#ececec 272px,#ededed 288px,#eeeeee 304px,#eeeeee 320px,#eeeeee 336px,#eeeeee 352px,#eeeeee 368px,#eeeeee 384px,#eeeeee 400px,#eeeeee 416px,#eeeeee 432px,#ededed 448px,#ececec 464px,#ebebeb 480px,#eaeaea 496px,#e8e8e8 512px,#e6e6e6 528px,#e3e3e3 544px,#e0e0e0 560px,#dddddd 576px,#dadada 592px,#d7d7d7 608px,#d5d5d5 624px,#d1d1d1 640px,#cdcdcd 655px),linear-gradient(90deg,#cbcbcb 0px,#d0d0d0 16px,#d4d4d4 32px,#d7d7d7 48px,#dadada 64px,#dddddd 80px,#dfdfdf 96px,#e1e1e1 112px,#e3e3e3 128px,#e5e5e5 144px,#e6e6e6 160px,#e7e7e7 176px,#e8e8e8 192px,#e9e9e9 208px,#e9e9e9 224px,#eaeaea 240px,#ebebeb 256px,#ececec 272px,#ededed 288px,#ededed 304px,#eeeeee 320px,#eeeeee 336px,#eeeeee 352px,#eeeeee 368px,#eeeeee 384px,#eeeeee 400px,#ededed 416px,#ededed 432px,#ededed 448px,#ececec 464px,#ebebeb 480px,#eaeaea 496px,#e8e8e8 512px,#e6e6e6 528px,#e3e3e3 544px,#e0e0e0 560px,#dddddd 576px,#dadada 592px,#d7d7d7 608px,#d4d4d4 624px,#d1d1d1 640px,#cecece 655px),linear-gradient(90deg,#cbcbcb 0px,#d0d0d0 16px,#d4d4d4 32px,#d7d7d7 48px,#dadada 64px,#dddddd 80px,#dfdfdf 96px,#e1e1e1 112px,#e3e3e3 128px,#e4e4e4 144px,#e6e6e6 160px,#e7e7e7 176px,#e7e7e7 192px,#e8e8e8 208px,#e9e9e9 224px,#eaeaea 240px,#ebebeb 256px,#ebebeb 272px,#ececec 288px,#ededed 304px,#ededed 320px,#eeeeee 336px,#eeeeee 352px,#ededed 368px,#ededed 384px,#ededed 400px,#ededed 416px,#ededed 432px,#ececec 448px,#ebebeb 464px,#eaeaea 480px,#e9e9e9 496px,#e7e7e7 512px,#e5e5e5 528px,#e3e3e3 544px,#e0e0e0 560px,#dddddd 576px,#dadada 592px,#d7d7d7 608px,#d4d4d4 624px,#d1d1d1 640px,#cdcdcd 655px),linear-gradient(90deg,#cbcbcb 0px,#d0d0d0 16px,#d4d4d4 32px,#d7d7d7 48px,#dadada 64px,#dcdcdc 80px,#dedede 96px,#e1e1e1 112px,#e2e2e2 128px,#e4e4e4 144px,#e5e5e5 160px,#e6e6e6 176px,#e7e7e7 192px,#e8e8e8 208px,#e9e9e9 224px,#e9e9e9 240px,#eaeaea 256px,#ebebeb 272px,#ececec 288px,#ececec 304px,#ededed 320px,#ededed 336px,#ededed 352px,#ededed 368px,#ededed 384px,#ededed 400px,#ececec 416px,#ececec 432px,#ececec 448px,#ebebeb 464px,#eaeaea 480px,#e9e9e9 496px,#e7e7e7 512px,#e5e5e5 528px,#e2e2e2 544px,#e0e0e0 560px,#dcdcdc 576px,#d9d9d9 592px,#d7d7d7 608px,#d4d4d4 624px,#d1d1d1 640px,#cdcdcd 655px),linear-gradient(90deg,#cbcbcb 0px,#cfcfcf 16px,#d3d3d3 32px,#d7d7d7 48px,#d9d9d9 64px,#dcdcdc 80px,#dedede 96px,#e0e0e0 112px,#e2e2e2 128px,#e4e4e4 144px,#e5e5e5 160px,#e6e6e6 176px,#e7e7e7 192px,#e7e7e7 208px,#e8e8e8 224px,#e9e9e9 240px,#eaeaea 256px,#ebebeb 272px,#ebebeb 288px,#ececec 304px,#ededed 320px,#ededed 336px,#ededed 352px,#ededed 368px,#ececec 384px,#ececec 400px,#ececec 416px,#ececec 432px,#ebebeb 448px,#eaeaea 464px,#eaeaea 480px,#e8e8e8 496px,#e7e7e7 512px,#e5e5e5 528px,#e2e2e2 544px,#dfdfdf 560px,#dcdcdc 576px,#d9d9d9 592px,#d7d7d7 608px,#d4d4d4 624px,#d1d1d1 640px,#cdcdcd 655px),linear-gradient(90deg,#cbcbcb 0px,#cfcfcf 16px,#d3d3d3 32px,#d6d6d6 48px,#d9d9d9 64px,#dcdcdc 80px,#dedede 96px,#e0e0e0 112px,#e2e2e2 128px,#e3e3e3 144px,#e4e4e4 160px,#e5e5e5 176px,#e6e6e6 192px,#e7e7e7 208px,#e8e8e8 224px,#e9e9e9 240px,#e9e9e9 256px,#eaeaea 272px,#ebebeb 288px,#ececec 304px,#ececec 320px,#ececec 336px,#ececec 352px,#ececec 368px,#ececec 384px,#ececec 400px,#ebebeb 416px,#ebebeb 432px,#ebebeb 448px,#eaeaea 464px,#e9e9e9 480px,#e8e8e8 496px,#e6e6e6 512px,#e4e4e4 528px,#e2e2e2 544px,#dfdfdf 560px,#dcdcdc 576px,#d9d9d9 592px,#d7d7d7 608px,#d4d4d4 624px,#d1d1d1 640px,#cdcdcd 655px),linear-gradient(90deg,#cbcbcb 0px,#cfcfcf 16px,#d3d3d3 32px,#d6d6d6 48px,#d9d9d9 64px,#dbdbdb 80px,#dddddd 96px,#dfdfdf 112px,#e1e1e1 128px,#e3e3e3 144px,#e4e4e4 160px,#e5e5e5 176px,#e6e6e6 192px,#e7e7e7 208px,#e7e7e7 224px,#e8e8e8 240px,#e9e9e9 256px,#eaeaea 272px,#ebebeb 288px,#ebebeb 304px,#ececec 320px,#ececec 336px,#ececec 352px,#ececec 368px,#ebebeb 384px,#ebebeb 400px,#ebebeb 416px,#ebebeb 432px,#eaeaea 448px,#e9e9e9 464px,#e9e9e9 480px,#e7e7e7 496px,#e6e6e6 512px,#e4e4e4 528px,#e1e1e1 544px,#dfdfdf 560px,#dcdcdc 576px,#d9d9d9 592px,#d6d6d6 608px,#d4d4d4 624px,#d1d1d1 640px,#cdcdcd 655px),linear-gradient(90deg,#cacaca 0px,#cfcfcf 16px,#d2d2d2 32px,#d6d6d6 48px,#d8d8d8 64px,#dbdbdb 80px,#dddddd 96px,#dfdfdf 112px,#e1e1e1 128px,#e2e2e2 144px,#e3e3e3 160px,#e4e4e4 176px,#e5e5e5 192px,#e6e6e6 208px,#e7e7e7 224px,#e8e8e8 240px,#e9e9e9 256px,#e9e9e9 272px,#eaeaea 288px,#ebebeb 304px,#ebebeb 320px,#ebebeb 336px,#ebebeb 352px,#ebebeb 368px,#ebebeb 384px,#ebebeb 400px,#eaeaea 416px,#eaeaea 432px,#eaeaea 448px,#e9e9e9 464px,#e8e8e8 480px,#e7e7e7 496px,#e5e5e5 512px,#e3e3e3 528px,#e1e1e1 544px,#dedede 560px,#dcdcdc 576px,#d9d9d9 592px,#d6d6d6 608px,#d4d4d4 624px,#d1d1d1 640px,#cdcdcd 655px),linear-gradient(90deg,#cacaca 0px,#cfcfcf 16px,#d2d2d2 32px,#d5d5d5 48px,#d8d8d8 64px,#dadada 80px,#dddddd 96px,#dfdfdf 112px,#e0e0e0 128px,#e2e2e2 144px,#e3e3e3 160px,#e4e4e4 176px,#e5e5e5 192px,#e6e6e6 208px,#e7e7e7 224px,#e8e8e8 240px,#e8e8e8 256px,#e9e9e9 272px,#eaeaea 288px,#eaeaea 304px,#ebebeb 320px,#ebebeb 336px,#ebebeb 352px,#ebebeb 368px,#ebebeb 384px,#eaeaea 400px,#eaeaea 416px,#eaeaea 432px,#e9e9e9 448px,#e9e9e9 464px,#e8e8e8 480px,#e6e6e6 496px,#e5e5e5 512px,#e3e3e3 528px,#e1e1e1 544px,#dedede 560px,#dcdcdc 576px,#d9d9d9 592px,#d6d6d6 608px,#d3d3d3 624px,#d0d0d0 640px,#cdcdcd 655px),linear-gradient(90deg,#cacaca 0px,#cecece 16px,#d2d2d2 32px,#d5d5d5 48px,#d8d8d8 64px,#dadada 80px,#dcdcdc 96px,#dedede 112px,#e0e0e0 128px,#e1e1e1 144px,#e3e3e3 160px,#e4e4e4 176px,#e5e5e5 192px,#e5e5e5 208px,#e6e6e6 224px,#e7e7e7 240px,#e8e8e8 256px,#e9e9e9 272px,#e9e9e9 288px,#eaeaea 304px,#eaeaea 320px,#eaeaea 336px,#eaeaea 352px,#eaeaea 368px,#eaeaea 384px,#eaeaea 400px,#eaeaea 416px,#e9e9e9 432px,#e9e9e9 448px,#e8e8e8 464px,#e7e7e7 480px,#e6e6e6 496px,#e5e5e5 512px,#e3e3e3 528px,#e0e0e0 544px,#dedede 560px,#dbdbdb 576px,#d9d9d9 592px,#d6d6d6 608px,#d3d3d3 624px,#d0d0d0 640px,#cdcdcd 655px),linear-gradient(90deg,#cacaca 0px,#cecece 16px,#d2d2d2 32px,#d5d5d5 48px,#d7d7d7 64px,#dadada 80px,#dcdcdc 96px,#dedede 112px,#dfdfdf 128px,#e1e1e1 144px,#e2e2e2 160px,#e3e3e3 176px,#e4e4e4 192px,#e5e5e5 208px,#e6e6e6 224px,#e7e7e7 240px,#e8e8e8 256px,#e8e8e8 272px,#e9e9e9 288px,#e9e9e9 304px,#eaeaea 320px,#eaeaea 336px,#eaeaea 352px,#eaeaea 368px,#eaeaea 384px,#e9e9e9 400px,#e9e9e9 416px,#e9e9e9 432px,#e8e8e8 448px,#e8e8e8 464px,#e7e7e7 480px,#e6e6e6 496px,#e4e4e4 512px,#e2e2e2 528px,#e0e0e0 544px,#dedede 560px,#dbdbdb 576px,#d8d8d8 592px,#d6d6d6 608px,#d3d3d3 624px,#d0d0d0 640px,#cccccc 655px),linear-gradient(90deg,#c9c9c9 0px,#cecece 16px,#d1d1d1 32px,#d4d4d4 48px,#d7d7d7 64px,#d9d9d9 80px,#dbdbdb 96px,#dddddd 112px,#dfdfdf 128px,#e1e1e1 144px,#e2e2e2 160px,#e3e3e3 176px,#e4e4e4 192px,#e5e5e5 208px,#e6e6e6 224px,#e6e6e6 240px,#e7e7e7 256px,#e8e8e8 272px,#e8e8e8 288px,#e9e9e9 304px,#e9e9e9 320px,#e9e9e9 336px,#e9e9e9 352px,#e9e9e9 368px,#e9e9e9 384px,#e9e9e9 400px,#e9e9e9 416px,#e8e8e8 432px,#e8e8e8 448px,#e7e7e7 464px,#e6e6e6 480px,#e5e5e5 496px,#e4e4e4 512px,#e2e2e2 528px,#e0e0e0 544px,#dddddd 560px,#dbdbdb 576px,#d8d8d8 592px,#d6d6d6 608px,#d3d3d3 624px,#d0d0d0 640px,#cccccc 655px),linear-gradient(90deg,#c9c9c9 0px,#cdcdcd 16px,#d1d1d1 32px,#d4d4d4 48px,#d7d7d7 64px,#d9d9d9 80px,#dbdbdb 96px,#dddddd 112px,#dfdfdf 128px,#e0e0e0 144px,#e1e1e1 160px,#e2e2e2 176px,#e3e3e3 192px,#e4e4e4 208px,#e5e5e5 224px,#e6e6e6 240px,#e7e7e7 256px,#e7e7e7 272px,#e8e8e8 288px,#e8e8e8 304px,#e9e9e9 320px,#e9e9e9 336px,#e9e9e9 352px,#e9e9e9 368px,#e9e9e9 384px,#e8e8e8 400px,#e8e8e8 416px,#e8e8e8 432px,#e7e7e7 448px,#e7e7e7 464px,#e6e6e6 480px,#e5e5e5 496px,#e3e3e3 512px,#e2e2e2 528px,#e0e0e0 544px,#dddddd 560px,#dbdbdb 576px,#d8d8d8 592px,#d6d6d6 608px,#d3d3d3 624px,#d0d0d0 640px,#cccccc 655px),linear-gradient(90deg,#c9c9c9 0px,#cdcdcd 16px,#d1d1d1 32px,#d4d4d4 48px,#d6d6d6 64px,#d9d9d9 80px,#dbdbdb 96px,#dddddd 112px,#dedede 128px,#e0e0e0 144px,#e1e1e1 160px,#e2e2e2 176px,#e3e3e3 192px,#e4e4e4 208px,#e5e5e5 224px,#e6e6e6 240px,#e6e6e6 256px,#e7e7e7 272px,#e8e8e8 288px,#e8e8e8 304px,#e8e8e8 320px,#e8e8e8 336px,#e8e8e8 352px,#e8e8e8 368px,#e8e8e8 384px,#e8e8e8 400px,#e8e8e8 416px,#e7e7e7 432px,#e7e7e7 448px,#e6e6e6 464px,#e5e5e5 480px,#e4e4e4 496px,#e3e3e3 512px,#e1e1e1 528px,#dfdfdf 544px,#dddddd 560px,#dbdbdb 576px,#d8d8d8 592px,#d5d5d5 608px,#d3d3d3 624px,#cfcfcf 640px,#cccccc 655px),linear-gradient(90deg,#c9c9c9 0px,#cdcdcd 16px,#d0d0d0 32px,#d3d3d3 48px,#d6d6d6 64px,#d8d8d8 80px,#dadada 96px,#dcdcdc 112px,#dedede 128px,#dfdfdf 144px,#e0e0e0 160px,#e2e2e2 176px,#e3e3e3 192px,#e4e4e4 208px,#e5e5e5 224px,#e5e5e5 240px,#e6e6e6 256px,#e7e7e7 272px,#e7e7e7 288px,#e7e7e7 304px,#e8e8e8 320px,#e8e8e8 336px,#e8e8e8 352px,#e8e8e8 368px,#e8e8e8 384px,#e7e7e7 400px,#e7e7e7 416px,#e7e7e7 432px,#e6e6e6 448px,#e6e6e6 464px,#e5e5e5 480px,#e4e4e4 496px,#e2e2e2 512px,#e1e1e1 528px,#dfdfdf 544px,#dddddd 560px,#dadada 576px,#d8d8d8 592px,#d5d5d5 608px,#d2d2d2 624px,#cfcfcf 640px,#cccccc 655px),linear-gradient(90deg,#c8c8c8 0px,#cdcdcd 16px,#d0d0d0 32px,#d3d3d3 48px,#d6d6d6 64px,#d8d8d8 80px,#dadada 96px,#dcdcdc 112px,#dddddd 128px,#dfdfdf 144px,#e0e0e0 160px,#e1e1e1 176px,#e2e2e2 192px,#e3e3e3 208px,#e4e4e4 224px,#e5e5e5 240px,#e6e6e6 256px,#e6e6e6 272px,#e7e7e7 288px,#e7e7e7 304px,#e7e7e7 320px,#e7e7e7 336px,#e7e7e7 352px,#e7e7e7 368px,#e7e7e7 384px,#e7e7e7 400px,#e7e7e7 416px,#e6e6e6 432px,#e6e6e6 448px,#e5e5e5 464px,#e4e4e4 480px,#e3e3e3 496px,#e2e2e2 512px,#e0e0e0 528px,#dfdfdf 544px,#dcdcdc 560px,#dadada 576px,#d8d8d8 592px,#d5d5d5 608px,#d2d2d2 624px,#cfcfcf 640px,#cbcbcb 655px),linear-gradient(90deg,#c8c8c8 0px,#cccccc 16px,#d0d0d0 32px,#d3d3d3 48px,#d5d5d5 64px,#d7d7d7 80px,#d9d9d9 96px,#dbdbdb 112px,#dddddd 128px,#dedede 144px,#e0e0e0 160px,#e1e1e1 176px,#e2e2e2 192px,#e3e3e3 208px,#e4e4e4 224px,#e5e5e5 240px,#e5e5e5 256px,#e6e6e6 272px,#e6e6e6 288px,#e6e6e6 304px,#e6e6e6 320px,#e7e7e7 336px,#e7e7e7 352px,#e7e7e7 368px,#e7e7e7 384px,#e6e6e6 400px,#e6e6e6 416px,#e6e6e6 432px,#e5e5e5 448px,#e5e5e5 464px,#e4e4e4 480px,#e3e3e3 496px,#e2e2e2 512px,#e0e0e0 528px,#dedede 544px,#dcdcdc 560px,#dadada 576px,#d7d7d7 592px,#d5d5d5 608px,#d2d2d2 624px,#cfcfcf 640px,#cbcbcb 655px),linear-gradient(90deg,#c8c8c8 0px,#cccccc 16px,#cfcfcf 32px,#d2d2d2 48px,#d5d5d5 64px,#d7d7d7 80px,#d9d9d9 96px,#dbdbdb 112px,#dcdcdc 128px,#dedede 144px,#dfdfdf 160px,#e0e0e0 176px,#e1e1e1 192px,#e2e2e2 208px,#e3e3e3 224px,#e4e4e4 240px,#e5e5e5 256px,#e5e5e5 272px,#e6e6e6 288px,#e6e6e6 304px,#e6e6e6 320px,#e6e6e6 336px,#e6e6e6 352px,#e6e6e6 368px,#e6e6e6 384px,#e6e6e6 400px,#e6e6e6 416px,#e5e5e5 432px,#e5e5e5 448px,#e4e4e4 464px,#e3e3e3 480px,#e2e2e2 496px,#e1e1e1 512px,#e0e0e0 528px,#dedede 544px,#dcdcdc 560px,#dadada 576px,#d7d7d7 592px,#d5d5d5 608px,#d2d2d2 624px,#cecece 640px,#cbcbcb 655px),linear-gradient(90deg,#c8c8c8 0px,#cccccc 16px,#cfcfcf 32px,#d2d2d2 48px,#d4d4d4 64px,#d7d7d7 80px,#d9d9d9 96px,#dadada 112px,#dcdcdc 128px,#dddddd 144px,#dfdfdf 160px,#e0e0e0 176px,#e1e1e1 192px,#e2e2e2 208px,#e3e3e3 224px,#e4e4e4 240px,#e5e5e5 256px,#e5e5e5 272px,#e5e5e5 288px,#e6e6e6 304px,#e6e6e6 320px,#e6e6e6 336px,#e6e6e6 352px,#e6e6e6 368px,#e6e6e6 384px,#e5e5e5 400px,#e5e5e5 416px,#e5e5e5 432px,#e4e4e4 448px,#e4e4e4 464px,#e3e3e3 480px,#e2e2e2 496px,#e1e1e1 512px,#dfdfdf 528px,#dedede 544px,#dcdcdc 560px,#d9d9d9 576px,#d7d7d7 592px,#d4d4d4 608px,#d1d1d1 624px,#cecece 640px,#cbcbcb 655px),linear-gradient(90deg,#c8c8c8 0px,#cbcbcb 16px,#cfcfcf 32px,#d2d2d2 48px,#d4d4d4 64px,#d6d6d6 80px,#d8d8d8 96px,#dadada 112px,#dcdcdc 128px,#dddddd 144px,#dedede 160px,#dfdfdf 176px,#e1e1e1 192px,#e2e2e2 208px,#e3e3e3 224px,#e4e4e4 240px,#e4e4e4 256px,#e5e5e5 272px,#e5e5e5 288px,#e5e5e5 304px,#e5e5e5 320px,#e5e5e5 336px,#e5e5e5 352px,#e5e5e5 368px,#e5e5e5 384px,#e5e5e5 400px,#e5e5e5 416px,#e4e4e4 432px,#e4e4e4 448px,#e3e3e3 464px,#e2e2e2 480px,#e1e1e1 496px,#e0e0e0 512px,#dfdfdf 528px,#dddddd 544px,#dbdbdb 560px,#d9d9d9 576px,#d7d7d7 592px,#d4d4d4 608px,#d1d1d1 624px,#cecece 640px,#cacaca 655px),linear-gradient(90deg,#c7c7c7 0px,#cbcbcb 16px,#cecece 32px,#d1d1d1 48px,#d4d4d4 64px,#d6d6d6 80px,#d8d8d8 96px,#d9d9d9 112px,#dbdbdb 128px,#dddddd 144px,#dedede 160px,#dfdfdf 176px,#e0e0e0 192px,#e1e1e1 208px,#e2e2e2 224px,#e3e3e3 240px,#e4e4e4 256px,#e4e4e4 272px,#e5e5e5 288px,#e5e5e5 304px,#e5e5e5 320px,#e5e5e5 336px,#e5e5e5 352px,#e5e5e5 368px,#e5e5e5 384px,#e5e5e5 400px,#e4e4e4 416px,#e4e4e4 432px,#e3e3e3 448px,#e3e3e3 464px,#e2e2e2 480px,#e1e1e1 496px,#e0e0e0 512px,#dfdfdf 528px,#dddddd 544px,#dbdbdb 560px,#d9d9d9 576px,#d6d6d6 592px,#d4d4d4 608px,#d1d1d1 624px,#cecece 640px,#cacaca 655px),linear-gradient(90deg,#c7c7c7 0px,#cbcbcb 16px,#cecece 32px,#d1d1d1 48px,#d3d3d3 64px,#d5d5d5 80px,#d7d7d7 96px,#d9d9d9 112px,#dbdbdb 128px,#dcdcdc 144px,#dddddd 160px,#dfdfdf 176px,#e0e0e0 192px,#e1e1e1 208px,#e2e2e2 224px,#e3e3e3 240px,#e3e3e3 256px,#e4e4e4 272px,#e4e4e4 288px,#e4e4e4 304px,#e4e4e4 320px,#e4e4e4 336px,#e5e5e5 352px,#e4e4e4 368px,#e4e4e4 384px,#e4e4e4 400px,#e4e4e4 416px,#e3e3e3 432px,#e3e3e3 448px,#e2e2e2 464px,#e1e1e1 480px,#e0e0e0 496px,#dfdfdf 512px,#dedede 528px,#dddddd 544px,#dbdbdb 560px,#d9d9d9 576px,#d6d6d6 592px,#d4d4d4 608px,#d1d1d1 624px,#cdcdcd 640px,#cacaca 655px),linear-gradient(90deg,#c7c7c7 0px,#cbcbcb 16px,#cecece 32px,#d1d1d1 48px,#d3d3d3 64px,#d5d5d5 80px,#d7d7d7 96px,#d9d9d9 112px,#dadada 128px,#dcdcdc 144px,#dddddd 160px,#dedede 176px,#dfdfdf 192px,#e0e0e0 208px,#e1e1e1 224px,#e2e2e2 240px,#e3e3e3 256px,#e4e4e4 272px,#e4e4e4 288px,#e4e4e4 304px,#e4e4e4 320px,#e4e4e4 336px,#e4e4e4 352px,#e4e4e4 368px,#e4e4e4 384px,#e4e4e4 400px,#e3e3e3 416px,#e3e3e3 432px,#e2e2e2 448px,#e2e2e2 464px,#e1e1e1 480px,#e0e0e0 496px,#dfdfdf 512px,#dedede 528px,#dcdcdc 544px,#dadada 560px,#d8d8d8 576px,#d6d6d6 592px,#d3d3d3 608px,#d0d0d0 624px,#cdcdcd 640px,#cacaca 655px),linear-gradient(90deg,#c7c7c7 0px,#cacaca 16px,#cecece 32px,#d0d0d0 48px,#d3d3d3 64px,#d5d5d5 80px,#d6d6d6 96px,#d8d8d8 112px,#dadada 128px,#dbdbdb 144px,#dddddd 160px,#dedede 176px,#dfdfdf 192px,#e0e0e0 208px,#e1e1e1 224px,#e2e2e2 240px,#e3e3e3 256px,#e3e3e3 272px,#e3e3e3 288px,#e4e4e4 304px,#e4e4e4 320px,#e4e4e4 336px,#e4e4e4 352px,#e4e4e4 368px,#e3e3e3 384px,#e3e3e3 400px,#e3e3e3 416px,#e2e2e2 432px,#e2e2e2 448px,#e1e1e1 464px,#e0e0e0 480px,#e0e0e0 496px,#dfdfdf 512px,#dddddd 528px,#dcdcdc 544px,#dadada 560px,#d8d8d8 576px,#d6d6d6 592px,#d3d3d3 608px,#d0d0d0 624px,#cdcdcd 640px,#cacaca 655px),linear-gradient(90deg,#c6c6c6 0px,#cacaca 16px,#cdcdcd 32px,#d0d0d0 48px,#d2d2d2 64px,#d4d4d4 80px,#d6d6d6 96px,#d8d8d8 112px,#d9d9d9 128px,#dbdbdb 144px,#dcdcdc 160px,#dddddd 176px,#dedede 192px,#e0e0e0 208px,#e1e1e1 224px,#e2e2e2 240px,#e2e2e2 256px,#e3e3e3 272px,#e3e3e3 288px,#e3e3e3 304px,#e3e3e3 320px,#e3e3e3 336px,#e3e3e3 352px,#e3e3e3 368px,#e3e3e3 384px,#e3e3e3 400px,#e2e2e2 416px,#e2e2e2 432px,#e1e1e1 448px,#e1e1e1 464px,#e0e0e0 480px,#dfdfdf 496px,#dedede 512px,#dddddd 528px,#dbdbdb 544px,#dadada 560px,#d8d8d8 576px,#d5d5d5 592px,#d3d3d3 608px,#d0d0d0 624px,#cdcdcd 640px,#c9c9c9 655px),linear-gradient(90deg,#c6c6c6 0px,#cacaca 16px,#cdcdcd 32px,#d0d0d0 48px,#d2d2d2 64px,#d4d4d4 80px,#d5d5d5 96px,#d7d7d7 112px,#d9d9d9 128px,#dadada 144px,#dcdcdc 160px,#dddddd 176px,#dedede 192px,#dfdfdf 208px,#e0e0e0 224px,#e1e1e1 240px,#e2e2e2 256px,#e2e2e2 272px,#e3e3e3 288px,#e3e3e3 304px,#e3e3e3 320px,#e3e3e3 336px,#e3e3e3 352px,#e3e3e3 368px,#e2e2e2 384px,#e2e2e2 400px,#e2e2e2 416px,#e1e1e1 432px,#e1e1e1 448px,#e0e0e0 464px,#dfdfdf 480px,#dfdfdf 496px,#dedede 512px,#dcdcdc 528px,#dbdbdb 544px,#d9d9d9 560px,#d7d7d7 576px,#d5d5d5 592px,#d2d2d2 608px,#d0d0d0 624px,#cccccc 640px,#c9c9c9 655px),linear-gradient(90deg,#c6c6c6 0px,#cacaca 16px,#cdcdcd 32px,#cfcfcf 48px,#d2d2d2 64px,#d3d3d3 80px,#d5d5d5 96px,#d7d7d7 112px,#d8d8d8 128px,#dadada 144px,#dbdbdb 160px,#dcdcdc 176px,#dedede 192px,#dfdfdf 208px,#e0e0e0 224px,#e1e1e1 240px,#e1e1e1 256px,#e2e2e2 272px,#e2e2e2 288px,#e3e3e3 304px,#e3e3e3 320px,#e3e3e3 336px,#e3e3e3 352px,#e2e2e2 368px,#e2e2e2 384px,#e2e2e2 400px,#e1e1e1 416px,#e1e1e1 432px,#e0e0e0 448px,#e0e0e0 464px,#dfdfdf 480px,#dedede 496px,#dddddd 512px,#dcdcdc 528px,#dbdbdb 544px,#d9d9d9 560px,#d7d7d7 576px,#d5d5d5 592px,#d2d2d2 608px,#cfcfcf 624px,#cccccc 640px,#c9c9c9 655px),linear-gradient(90deg,#c6c6c6 0px,#c9c9c9 16px,#cccccc 32px,#cfcfcf 48px,#d1d1d1 64px,#d3d3d3 80px,#d5d5d5 96px,#d6d6d6 112px,#d8d8d8 128px,#d9d9d9 144px,#dbdbdb 160px,#dcdcdc 176px,#dddddd 192px,#dedede 208px,#dfdfdf 224px,#e0e0e0 240px,#e1e1e1 256px,#e1e1e1 272px,#e2e2e2 288px,#e2e2e2 304px,#e2e2e2 320px,#e2e2e2 336px,#e2e2e2 352px,#e2e2e2 368px,#e2e2e2 384px,#e1e1e1 400px,#e1e1e1 416px,#e0e0e0 432px,#e0e0e0 448px,#dfdfdf 464px,#dedede 480px,#dedede 496px,#dddddd 512px,#dbdbdb 528px,#dadada 544px,#d8d8d8 560px,#d7d7d7 576px,#d4d4d4 592px,#d2d2d2 608px,#cfcfcf 624px,#cccccc 640px,#c9c9c9 655px),linear-gradient(90deg,#c6c6c6 0px,#c9c9c9 16px,#cccccc 32px,#cfcfcf 48px,#d1d1d1 64px,#d3d3d3 80px,#d4d4d4 96px,#d6d6d6 112px,#d8d8d8 128px,#d9d9d9 144px,#dadada 160px,#dbdbdb 176px,#dddddd 192px,#dedede 208px,#dfdfdf 224px,#e0e0e0 240px,#e1e1e1 256px,#e1e1e1 272px,#e1e1e1 288px,#e2e2e2 304px,#e2e2e2 320px,#e2e2e2 336px,#e2e2e2 352px,#e1e1e1 368px,#e1e1e1 384px,#e1e1e1 400px,#e0e0e0 416px,#e0e0e0 432px,#dfdfdf 448px,#dfdfdf 464px,#dedede 480px,#dddddd 496px,#dcdcdc 512px,#dbdbdb 528px,#dadada 544px,#d8d8d8 560px,#d6d6d6 576px,#d4d4d4 592px,#d2d2d2 608px,#cfcfcf 624px,#cccccc 640px,#c8c8c8 655px),linear-gradient(90deg,#c5c5c5 0px,#c9c9c9 16px,#cccccc 32px,#cfcfcf 48px,#d1d1d1 64px,#d2d2d2 80px,#d4d4d4 96px,#d6d6d6 112px,#d7d7d7 128px,#d9d9d9 144px,#dadada 160px,#dbdbdb 176px,#dcdcdc 192px,#dddddd 208px,#dedede 224px,#dfdfdf 240px,#e0e0e0 256px,#e1e1e1 272px,#e1e1e1 288px,#e1e1e1 304px,#e2e2e2 320px,#e2e2e2 336px,#e1e1e1 352px,#e1e1e1 368px,#e1e1e1 384px,#e0e0e0 400px,#e0e0e0 416px,#dfdfdf 432px,#dfdfdf 448px,#dedede 464px,#dddddd 480px,#dddddd 496px,#dcdcdc 512px,#dbdbdb 528px,#d9d9d9 544px,#d8d8d8 560px,#d6d6d6 576px,#d4d4d4 592px,#d1d1d1 608px,#cecece 624px,#cbcbcb 640px,#c8c8c8 655px),linear-gradient(90deg,#c5c5c5 0px,#c9c9c9 16px,#cccccc 32px,#cecece 48px,#d0d0d0 64px,#d2d2d2 80px,#d4d4d4 96px,#d5d5d5 112px,#d7d7d7 128px,#d8d8d8 144px,#d9d9d9 160px,#dbdbdb 176px,#dcdcdc 192px,#dddddd 208px,#dedede 224px,#dfdfdf 240px,#e0e0e0 256px,#e0e0e0 272px,#e1e1e1 288px,#e1e1e1 304px,#e1e1e1 320px,#e1e1e1 336px,#e1e1e1 352px,#e1e1e1 368px,#e0e0e0 384px,#e0e0e0 400px,#dfdfdf 416px,#dfdfdf 432px,#dedede 448px,#dedede 464px,#dddddd 480px,#dcdcdc 496px,#dbdbdb 512px,#dadada 528px,#d9d9d9 544px,#d7d7d7 560px,#d5d5d5 576px,#d3d3d3 592px,#d1d1d1 608px,#cecece 624px,#cbcbcb 640px,#c8c8c8 655px),linear-gradient(90deg,#c5c5c5 0px,#c9c9c9 16px,#cccccc 32px,#cecece 48px,#d0d0d0 64px,#d2d2d2 80px,#d3d3d3 96px,#d5d5d5 112px,#d6d6d6 128px,#d8d8d8 144px,#d9d9d9 160px,#dadada 176px,#dbdbdb 192px,#dcdcdc 208px,#dddddd 224px,#dedede 240px,#dfdfdf 256px,#e0e0e0 272px,#e0e0e0 288px,#e0e0e0 304px,#e1e1e1 320px,#e1e1e1 336px,#e0e0e0 352px,#e0e0e0 368px,#e0e0e0 384px,#dfdfdf 400px,#dfdfdf 416px,#dedede 432px,#dedede 448px,#dddddd 464px,#dcdcdc 480px,#dcdcdc 496px,#dbdbdb 512px,#dadada 528px,#d8d8d8 544px,#d7d7d7 560px,#d5d5d5 576px,#d3d3d3 592px,#d1d1d1 608px,#cecece 624px,#cbcbcb 640px,#c8c8c8 655px),linear-gradient(90deg,#c5c5c5 0px,#c8c8c8 16px,#cbcbcb 32px,#cecece 48px,#d0d0d0 64px,#d1d1d1 80px,#d3d3d3 96px,#d5d5d5 112px,#d6d6d6 128px,#d7d7d7 144px,#d8d8d8 160px,#dadada 176px,#dbdbdb 192px,#dcdcdc 208px,#dddddd 224px,#dedede 240px,#dfdfdf 256px,#dfdfdf 272px,#e0e0e0 288px,#e0e0e0 304px,#e0e0e0 320px,#e0e0e0 336px,#e0e0e0 352px,#e0e0e0 368px,#dfdfdf 384px,#dfdfdf 400px,#dedede 416px,#dedede 432px,#dddddd 448px,#dcdcdc 464px,#dcdcdc 480px,#dbdbdb 496px,#dadada 512px,#d9d9d9 528px,#d8d8d8 544px,#d6d6d6 560px,#d5d5d5 576px,#d3d3d3 592px,#d0d0d0 608px,#cdcdcd 624px,#cacaca 640px,#c7c7c7 655px),linear-gradient(90deg,#c5c5c5 0px,#c8c8c8 16px,#cbcbcb 32px,#cdcdcd 48px,#d0d0d0 64px,#d1d1d1 80px,#d3d3d3 96px,#d4d4d4 112px,#d6d6d6 128px,#d7d7d7 144px,#d8d8d8 160px,#d9d9d9 176px,#dadada 192px,#dbdbdb 208px,#dcdcdc 224px,#dddddd 240px,#dedede 256px,#dfdfdf 272px,#dfdfdf 288px,#e0e0e0 304px,#e0e0e0 320px,#e0e0e0 336px,#dfdfdf 352px,#dfdfdf 368px,#dfdfdf 384px,#dedede 400px,#dedede 416px,#dddddd 432px,#dddddd 448px,#dcdcdc 464px,#dbdbdb 480px,#dbdbdb 496px,#dadada 512px,#d9d9d9 528px,#d7d7d7 544px,#d6d6d6 560px,#d4d4d4 576px,#d2d2d2 592px,#d0d0d0 608px,#cdcdcd 624px,#cacaca 640px,#c7c7c7 655px),linear-gradient(90deg,#c4c4c4 0px,#c8c8c8 16px,#cbcbcb 32px,#cdcdcd 48px,#cfcfcf 64px,#d1d1d1 80px,#d2d2d2 96px,#d4d4d4 112px,#d5d5d5 128px,#d6d6d6 144px,#d8d8d8 160px,#d9d9d9 176px,#dadada 192px,#dbdbdb 208px,#dcdcdc 224px,#dddddd 240px,#dedede 256px,#dedede 272px,#dfdfdf 288px,#dfdfdf 304px,#dfdfdf 320px,#dfdfdf 336px,#dfdfdf 352px,#dfdfdf 368px,#dedede 384px,#dedede 400px,#dddddd 416px,#dddddd 432px,#dcdcdc 448px,#dbdbdb 464px,#dbdbdb 480px,#dadada 496px,#d9d9d9 512px,#d8d8d8 528px,#d7d7d7 544px,#d6d6d6 560px,#d4d4d4 576px,#d2d2d2 592px,#cfcfcf 608px,#cdcdcd 624px,#cacaca 640px,#c7c7c7 655px),linear-gradient(90deg,#c4c4c4 0px,#c8c8c8 16px,#cbcbcb 32px,#cdcdcd 48px,#cfcfcf 64px,#d1d1d1 80px,#d2d2d2 96px,#d3d3d3 112px,#d5d5d5 128px,#d6d6d6 144px,#d7d7d7 160px,#d8d8d8 176px,#d9d9d9 192px,#dadada 208px,#dbdbdb 224px,#dcdcdc 240px,#dddddd 256px,#dedede 272px,#dedede 288px,#dfdfdf 304px,#dfdfdf 320px,#dfdfdf 336px,#dedede 352px,#dedede 368px,#dedede 384px,#dddddd 400px,#dddddd 416px,#dcdcdc 432px,#dcdcdc 448px,#dbdbdb 464px,#dadada 480px,#d9d9d9 496px,#d9d9d9 512px,#d8d8d8 528px,#d6d6d6 544px,#d5d5d5 560px,#d3d3d3 576px,#d1d1d1 592px,#cfcfcf 608px,#cccccc 624px,#cacaca 640px,#c6c6c6 655px),linear-gradient(90deg,#c4c4c4 0px,#c8c8c8 16px,#cacaca 32px,#cdcdcd 48px,#cfcfcf 64px,#d0d0d0 80px,#d2d2d2 96px,#d3d3d3 112px,#d4d4d4 128px,#d6d6d6 144px,#d7d7d7 160px,#d8d8d8 176px,#d9d9d9 192px,#dadada 208px,#dbdbdb 224px,#dcdcdc 240px,#dddddd 256px,#dddddd 272px,#dedede 288px,#dedede 304px,#dedede 320px,#dedede 336px,#dedede 352px,#dedede 368px,#dddddd 384px,#dddddd 400px,#dcdcdc 416px,#dcdcdc 432px,#dbdbdb 448px,#dadada 464px,#dadada 480px,#d9d9d9 496px,#d8d8d8 512px,#d7d7d7 528px,#d6d6d6 544px,#d5d5d5 560px,#d3d3d3 576px,#d1d1d1 592px,#cfcfcf 608px,#cccccc 624px,#c9c9c9 640px,#c6c6c6 655px),linear-gradient(90deg,#c4c4c4 0px,#c7c7c7 16px,#cacaca 32px,#cdcdcd 48px,#cecece 64px,#d0d0d0 80px,#d1d1d1 96px,#d3d3d3 112px,#d4d4d4 128px,#d5d5d5 144px,#d6d6d6 160px,#d7d7d7 176px,#d8d8d8 192px,#d9d9d9 208px,#dadada 224px,#dbdbdb 240px,#dcdcdc 256px,#dddddd 272px,#dddddd 288px,#dedede 304px,#dedede 320px,#dedede 336px,#dddddd 352px,#dddddd 368px,#dddddd 384px,#dcdcdc 400px,#dcdcdc 416px,#dbdbdb 432px,#dadada 448px,#dadada 464px,#d9d9d9 480px,#d8d8d8 496px,#d8d8d8 512px,#d7d7d7 528px,#d5d5d5 544px,#d4d4d4 560px,#d2d2d2 576px,#d1d1d1 592px,#cecece 608px,#cccccc 624px,#c9c9c9 640px,#c6c6c6 655px),linear-gradient(90deg,#c4c4c4 0px,#c7c7c7 16px,#cacaca 32px,#cccccc 48px,#cecece 64px,#d0d0d0 80px,#d1d1d1 96px,#d2d2d2 112px,#d4d4d4 128px,#d5d5d5 144px,#d6d6d6 160px,#d7d7d7 176px,#d8d8d8 192px,#d9d9d9 208px,#dadada 224px,#dbdbdb 240px,#dbdbdb 256px,#dcdcdc 272px,#dddddd 288px,#dddddd 304px,#dddddd 320px,#dddddd 336px,#dddddd 352px,#dddddd 368px,#dcdcdc 384px,#dcdcdc 400px,#dbdbdb 416px,#dadada 432px,#dadada 448px,#d9d9d9 464px,#d9d9d9 480px,#d8d8d8 496px,#d7d7d7 512px,#d6d6d6 528px,#d5d5d5 544px,#d4d4d4 560px,#d2d2d2 576px,#d0d0d0 592px,#cecece 608px,#cbcbcb 624px,#c9c9c9 640px,#c6c6c6 655px),linear-gradient(90deg,#c4c4c4 0px,#c7c7c7 16px,#cacaca 32px,#cccccc 48px,#cecece 64px,#cfcfcf 80px,#d1d1d1 96px,#d2d2d2 112px,#d3d3d3 128px,#d4d4d4 144px,#d5d5d5 160px,#d6d6d6 176px,#d7d7d7 192px,#d8d8d8 208px,#d9d9d9 224px,#dadada 240px,#dbdbdb 256px,#dcdcdc 272px,#dcdcdc 288px,#dcdcdc 304px,#dddddd 320px,#dddddd 336px,#dcdcdc 352px,#dcdcdc 368px,#dcdcdc 384px,#dbdbdb 400px,#dbdbdb 416px,#dadada 432px,#d9d9d9 448px,#d9d9d9 464px,#d8d8d8 480px,#d7d7d7 496px,#d7d7d7 512px,#d6d6d6 528px,#d4d4d4 544px,#d3d3d3 560px,#d2d2d2 576px,#d0d0d0 592px,#cdcdcd 608px,#cbcbcb 624px,#c8c8c8 640px,#c5c5c5 655px),linear-gradient(90deg,#c3c3c3 0px,#c7c7c7 16px,#cacaca 32px,#cccccc 48px,#cecece 64px,#cfcfcf 80px,#d0d0d0 96px,#d2d2d2 112px,#d3d3d3 128px,#d4d4d4 144px,#d5d5d5 160px,#d6d6d6 176px,#d7d7d7 192px,#d8d8d8 208px,#d9d9d9 224px,#dadada 240px,#dadada 256px,#dbdbdb 272px,#dbdbdb 288px,#dcdcdc 304px,#dcdcdc 320px,#dcdcdc 336px,#dcdcdc 352px,#dbdbdb 368px,#dbdbdb 384px,#dbdbdb 400px,#dadada 416px,#d9d9d9 432px,#d9d9d9 448px,#d8d8d8 464px,#d8d8d8 480px,#d7d7d7 496px,#d6d6d6 512px,#d5d5d5 528px,#d4d4d4 544px,#d3d3d3 560px,#d1d1d1 576px,#cfcfcf 592px,#cdcdcd 608px,#cbcbcb 624px,#c8c8c8 640px,#c5c5c5 655px),linear-gradient(90deg,#c3c3c3 0px,#c7c7c7 16px,#c9c9c9 32px,#cccccc 48px,#cdcdcd 64px,#cfcfcf 80px,#d0d0d0 96px,#d1d1d1 112px,#d2d2d2 128px,#d3d3d3 144px,#d4d4d4 160px,#d5d5d5 176px,#d6d6d6 192px,#d7d7d7 208px,#d8d8d8 224px,#d9d9d9 240px,#dadada 256px,#dadada 272px,#dbdbdb 288px,#dbdbdb 304px,#dbdbdb 320px,#dbdbdb 336px,#dbdbdb 352px,#dbdbdb 368px,#dadada 384px,#dadada 400px,#d9d9d9 416px,#d9d9d9 432px,#d8d8d8 448px,#d8d8d8 464px,#d7d7d7 480px,#d6d6d6 496px,#d5d5d5 512px,#d5d5d5 528px,#d3d3d3 544px,#d2d2d2 560px,#d1d1d1 576px,#cfcfcf 592px,#cdcdcd 608px,#cacaca 624px,#c8c8c8 640px,#c5c5c5 655px),linear-gradient(90deg,#c3c3c3 0px,#c6c6c6 16px,#c9c9c9 32px,#cbcbcb 48px,#cdcdcd 64px,#cfcfcf 80px,#d0d0d0 96px,#d1d1d1 112px,#d2d2d2 128px,#d3d3d3 144px,#d4d4d4 160px,#d5d5d5 176px,#d6d6d6 192px,#d7d7d7 208px,#d8d8d8 224px,#d8d8d8 240px,#d9d9d9 256px,#dadada 272px,#dadada 288px,#dbdbdb 304px,#dbdbdb 320px,#dbdbdb 336px,#dbdbdb 352px,#dadada 368px,#dadada 384px,#d9d9d9 400px,#d9d9d9 416px,#d8d8d8 432px,#d8d8d8 448px,#d7d7d7 464px,#d6d6d6 480px,#d6d6d6 496px,#d5d5d5 512px,#d4d4d4 528px,#d3d3d3 544px,#d2d2d2 560px,#d0d0d0 576px,#cecece 592px,#cccccc 608px,#cacaca 624px,#c7c7c7 640px,#c5c5c5 655px),linear-gradient(90deg,#c3c3c3 0px,#c6c6c6 16px,#c9c9c9 32px,#cbcbcb 48px,#cdcdcd 64px,#cecece 80px,#cfcfcf 96px,#d0d0d0 112px,#d1d1d1 128px,#d2d2d2 144px,#d3d3d3 160px,#d4d4d4 176px,#d5d5d5 192px,#d6d6d6 208px,#d7d7d7 224px,#d8d8d8 240px,#d9d9d9 256px,#d9d9d9 272px,#dadada 288px,#dadada 304px,#dadada 320px,#dadada 336px,#dadada 352px,#dadada 368px,#d9d9d9 384px,#d9d9d9 400px,#d8d8d8 416px,#d8d8d8 432px,#d7d7d7 448px,#d6d6d6 464px,#d6d6d6 480px,#d5d5d5 496px,#d4d4d4 512px,#d3d3d3 528px,#d2d2d2 544px,#d1d1d1 560px,#d0d0d0 576px,#cecece 592px,#cccccc 608px,#c9c9c9 624px,#c7c7c7 640px,#c4c4c4 655px),linear-gradient(90deg,#c3c3c3 0px,#c6c6c6 16px,#c9c9c9 32px,#cbcbcb 48px,#cdcdcd 64px,#cecece 80px,#cfcfcf 96px,#d0d0d0 112px,#d1d1d1 128px,#d2d2d2 144px,#d3d3d3 160px,#d4d4d4 176px,#d5d5d5 192px,#d6d6d6 208px,#d7d7d7 224px,#d7d7d7 240px,#d8d8d8 256px,#d9d9d9 272px,#d9d9d9 288px,#dadada 304px,#dadada 320px,#dadada 336px,#dadada 352px,#d9d9d9 368px,#d9d9d9 384px,#d8d8d8 400px,#d8d8d8 416px,#d7d7d7 432px,#d7d7d7 448px,#d6d6d6 464px,#d5d5d5 480px,#d5d5d5 496px,#d4d4d4 512px,#d3d3d3 528px,#d2d2d2 544px,#d1d1d1 560px,#cfcfcf 576px,#cdcdcd 592px,#cbcbcb 608px,#c9c9c9 624px,#c7c7c7 640px,#c4c4c4 655px),linear-gradient(90deg,#c3c3c3 0px,#c6c6c6 16px,#c8c8c8 32px,#cbcbcb 48px,#cccccc 64px,#cecece 80px,#cfcfcf 96px,#d0d0d0 112px,#d1d1d1 128px,#d2d2d2 144px,#d2d2d2 160px,#d3d3d3 176px,#d4d4d4 192px,#d5d5d5 208px,#d6d6d6 224px,#d7d7d7 240px,#d7d7d7 256px,#d8d8d8 272px,#d9d9d9 288px,#d9d9d9 304px,#d9d9d9 320px,#d9d9d9 336px,#d9d9d9 352px,#d9d9d9 368px,#d8d8d8 384px,#d8d8d8 400px,#d7d7d7 416px,#d7d7d7 432px,#d6d6d6 448px,#d5d5d5 464px,#d5d5d5 480px,#d4d4d4 496px,#d3d3d3 512px,#d2d2d2 528px,#d1d1d1 544px,#d0d0d0 560px,#cfcfcf 576px,#cdcdcd 592px,#cbcbcb 608px,#c9c9c9 624px,#c6c6c6 640px,#c4c4c4 655px),linear-gradient(90deg,#c2c2c2 0px,#c6c6c6 16px,#c8c8c8 32px,#cacaca 48px,#cccccc 64px,#cdcdcd 80px,#cecece 96px,#cfcfcf 112px,#d0d0d0 128px,#d1d1d1 144px,#d2d2d2 160px,#d3d3d3 176px,#d4d4d4 192px,#d5d5d5 208px,#d5d5d5 224px,#d6d6d6 240px,#d7d7d7 256px,#d7d7d7 272px,#d8d8d8 288px,#d8d8d8 304px,#d9d9d9 320px,#d9d9d9 336px,#d8d8d8 352px,#d8d8d8 368px,#d8d8d8 384px,#d7d7d7 400px,#d7d7d7 416px,#d6d6d6 432px,#d5d5d5 448px,#d5d5d5 464px,#d4d4d4 480px,#d3d3d3 496px,#d3d3d3 512px,#d2d2d2 528px,#d1d1d1 544px,#d0d0d0 560px,#cecece 576px,#cdcdcd 592px,#cacaca 608px,#c8c8c8 624px,#c6c6c6 640px,#c4c4c4 655px),linear-gradient(90deg,#c2c2c2 0px,#c5c5c5 16px,#c8c8c8 32px,#cacaca 48px,#cccccc 64px,#cdcdcd 80px,#cecece 96px,#cfcfcf 112px,#d0d0d0 128px,#d1d1d1 144px,#d1d1d1 160px,#d2d2d2 176px,#d3d3d3 192px,#d4d4d4 208px,#d5d5d5 224px,#d6d6d6 240px,#d6d6d6 256px,#d7d7d7 272px,#d7d7d7 288px,#d8d8d8 304px,#d8d8d8 320px,#d8d8d8 336px,#d8d8d8 352px,#d7d7d7 368px,#d7d7d7 384px,#d6d6d6 400px,#d6d6d6 416px,#d5d5d5 432px,#d5d5d5 448px,#d4d4d4 464px,#d4d4d4 480px,#d3d3d3 496px,#d2d2d2 512px,#d1d1d1 528px,#d0d0d0 544px,#cfcfcf 560px,#cecece 576px,#cccccc 592px,#cacaca 608px,#c8c8c8 624px,#c6c6c6 640px,#c3c3c3 655px),linear-gradient(90deg,#c2c2c2 0px,#c5c5c5 16px,#c8c8c8 32px,#cacaca 48px,#cbcbcb 64px,#cdcdcd 80px,#cecece 96px,#cecece 112px,#cfcfcf 128px,#d0d0d0 144px,#d1d1d1 160px,#d2d2d2 176px,#d3d3d3 192px,#d3d3d3 208px,#d4d4d4 224px,#d5d5d5 240px,#d6d6d6 256px,#d6d6d6 272px,#d7d7d7 288px,#d7d7d7 304px,#d7d7d7 320px,#d7d7d7 336px,#d7d7d7 352px,#d7d7d7 368px,#d6d6d6 384px,#d6d6d6 400px,#d5d5d5 416px,#d5d5d5 432px,#d4d4d4 448px,#d4d4d4 464px,#d3d3d3 480px,#d2d2d2 496px,#d2d2d2 512px,#d1d1d1 528px,#d0d0d0 544px,#cfcfcf 560px,#cdcdcd 576px,#cccccc 592px,#cacaca 608px,#c8c8c8 624px,#c6c6c6 640px,#c3c3c3 655px),linear-gradient(90deg,#c2c2c2 0px,#c5c5c5 16px,#c7c7c7 32px,#c9c9c9 48px,#cbcbcb 64px,#cccccc 80px,#cdcdcd 96px,#cecece 112px,#cfcfcf 128px,#d0d0d0 144px,#d0d0d0 160px,#d1d1d1 176px,#d2d2d2 192px,#d3d3d3 208px,#d4d4d4 224px,#d4d4d4 240px,#d5d5d5 256px,#d6d6d6 272px,#d6d6d6 288px,#d6d6d6 304px,#d7d7d7 320px,#d7d7d7 336px,#d6d6d6 352px,#d6d6d6 368px,#d6d6d6 384px,#d5d5d5 400px,#d5d5d5 416px,#d4d4d4 432px,#d4d4d4 448px,#d3d3d3 464px,#d2d2d2 480px,#d2d2d2 496px,#d1d1d1 512px,#d0d0d0 528px,#cfcfcf 544px,#cecece 560px,#cdcdcd 576px,#cbcbcb 592px,#c9c9c9 608px,#c7c7c7 624px,#c5c5c5 640px,#c3c3c3 655px),linear-gradient(90deg,#c1c1c1 0px,#c5c5c5 16px,#c7c7c7 32px,#c9c9c9 48px,#cbcbcb 64px,#cccccc 80px,#cdcdcd 96px,#cecece 112px,#cecece 128px,#cfcfcf 144px,#d0d0d0 160px,#d1d1d1 176px,#d2d2d2 192px,#d2d2d2 208px,#d3d3d3 224px,#d4d4d4 240px,#d4d4d4 256px,#d5d5d5 272px,#d6d6d6 288px,#d6d6d6 304px,#d6d6d6 320px,#d6d6d6 336px,#d6d6d6 352px,#d6d6d6 368px,#d5d5d5 384px,#d5d5d5 400px,#d4d4d4 416px,#d4d4d4 432px,#d3d3d3 448px,#d2d2d2 464px,#d2d2d2 480px,#d1d1d1 496px,#d0d0d0 512px,#d0d0d0 528px,#cfcfcf 544px,#cecece 560px,#cccccc 576px,#cbcbcb 592px,#c9c9c9 608px,#c7c7c7 624px,#c5c5c5 640px,#c3c3c3 655px),linear-gradient(90deg,#c1c1c1 0px,#c4c4c4 16px,#c7c7c7 32px,#c9c9c9 48px,#cacaca 64px,#cbcbcb 80px,#cccccc 96px,#cdcdcd 112px,#cecece 128px,#cfcfcf 144px,#cfcfcf 160px,#d0d0d0 176px,#d1d1d1 192px,#d2d2d2 208px,#d2d2d2 224px,#d3d3d3 240px,#d4d4d4 256px,#d4d4d4 272px,#d5d5d5 288px,#d5d5d5 304px,#d5d5d5 320px,#d5d5d5 336px,#d5d5d5 352px,#d5d5d5 368px,#d4d4d4 384px,#d4d4d4 400px,#d4d4d4 416px,#d3d3d3 432px,#d2d2d2 448px,#d2d2d2 464px,#d1d1d1 480px,#d1d1d1 496px,#d0d0d0 512px,#cfcfcf 528px,#cecece 544px,#cdcdcd 560px,#cccccc 576px,#cacaca 592px,#c9c9c9 608px,#c7c7c7 624px,#c5c5c5 640px,#c2c2c2 655px),linear-gradient(90deg,#c1c1c1 0px,#c4c4c4 16px,#c6c6c6 32px,#c8c8c8 48px,#cacaca 64px,#cbcbcb 80px,#cccccc 96px,#cdcdcd 112px,#cdcdcd 128px,#cecece 144px,#cfcfcf 160px,#d0d0d0 176px,#d0d0d0 192px,#d1d1d1 208px,#d2d2d2 224px,#d3d3d3 240px,#d3d3d3 256px,#d4d4d4 272px,#d4d4d4 288px,#d5d5d5 304px,#d5d5d5 320px,#d5d5d5 336px,#d5d5d5 352px,#d4d4d4 368px,#d4d4d4 384px,#d3d3d3 400px,#d3d3d3 416px,#d2d2d2 432px,#d2d2d2 448px,#d1d1d1 464px,#d1d1d1 480px,#d0d0d0 496px,#cfcfcf 512px,#cfcfcf 528px,#cecece 544px,#cdcdcd 560px,#cbcbcb 576px,#cacaca 592px,#c8c8c8 608px,#c6c6c6 624px,#c4c4c4 640px,#c2c2c2 655px),linear-gradient(90deg,#c1c1c1 0px,#c4c4c4 16px,#c6c6c6 32px,#c8c8c8 48px,#cacaca 64px,#cbcbcb 80px,#cccccc 96px,#cccccc 112px,#cdcdcd 128px,#cecece 144px,#cecece 160px,#cfcfcf 176px,#d0d0d0 192px,#d1d1d1 208px,#d1d1d1 224px,#d2d2d2 240px,#d3d3d3 256px,#d3d3d3 272px,#d4d4d4 288px,#d4d4d4 304px,#d4d4d4 320px,#d4d4d4 336px,#d4d4d4 352px,#d4d4d4 368px,#d3d3d3 384px,#d3d3d3 400px,#d2d2d2 416px,#d2d2d2 432px,#d1d1d1 448px,#d1d1d1 464px,#d0d0d0 480px,#cfcfcf 496px,#cfcfcf 512px,#cecece 528px,#cdcdcd 544px,#cccccc 560px,#cbcbcb 576px,#c9c9c9 592px,#c8c8c8 608px,#c6c6c6 624px,#c4c4c4 640px,#c2c2c2 655px);background-position:0 0px,0 4px,0 8px,0 12px,0 16px,0 20px,0 24px,0 28px,0 32px,0 36px,0 40px,0 44px,0 48px,0 52px,0 56px,0 60px,0 64px,0 68px,0 72px,0 76px,0 80px,0 84px,0 88px,0 92px,0 96px,0 100px,0 104px,0 108px,0 112px,0 116px,0 120px,0 124px,0 128px,0 132px,0 136px,0 140px,0 144px,0 148px,0 152px,0 156px,0 160px,0 164px,0 168px,0 172px,0 176px,0 180px,0 184px,0 188px,0 192px,0 196px,0 200px,0 204px,0 208px,0 212px,0 216px,0 220px,0 224px,0 228px,0 232px,0 236px,0 240px,0 244px,0 248px,0 252px,0 256px,0 260px,0 264px,0 268px,0 272px,0 276px,0 280px,0 284px,0 288px,0 292px,0 296px,0 300px,0 304px,0 308px,0 312px,0 316px,0 320px,0 324px,0 328px,0 332px,0 336px,0 340px,0 344px,0 348px,0 352px,0 356px,0 360px,0 364px,0 368px,0 372px,0 376px,0 380px,0 384px,0 388px;background-size:100% 4px,100% 4px,100% 4px,100% 4px,100% 4px,100% 4px,100% 4px,100% 4px,100% 4px,100% 4px,100% 4px,100% 4px,100% 4px,100% 4px,100% 4px,100% 4px,100% 4px,100% 4px,100% 4px,100% 4px,100% 4px,100% 4px,100% 4px,100% 4px,100% 4px,100% 4px,100% 4px,100% 4px,100% 4px,100% 4px,100% 4px,100% 4px,100% 4px,100% 4px,100% 4px,100% 4px,100% 4px,100% 4px,100% 4px,100% 4px,100% 4px,100% 4px,100% 4px,100% 4px,100% 4px,100% 4px,100% 4px,100% 4px,100% 4px,100% 4px,100% 4px,100% 4px,100% 4px,100% 4px,100% 4px,100% 4px,100% 4px,100% 4px,100% 4px,100% 4px,100% 4px,100% 4px,100% 4px,100% 4px,100% 4px,100% 4px,100% 4px,100% 4px,100% 4px,100% 4px,100% 4px,100% 4px,100% 4px,100% 4px,100% 4px,100% 4px,100% 4px,100% 4px,100% 4px,100% 4px,100% 4px,100% 4px,100% 4px,100% 4px,100% 4px,100% 4px,100% 4px,100% 4px,100% 4px,100% 4px,100% 4px,100% 4px,100% 4px,100% 4px,100% 4px,100% 4px,100% 4px,100% 4px;background-repeat:no-repeat;}
#chart:after{content:"";position:absolute;left:0;top:0;right:0;bottom:0;border:1px solid #bdbdbd;border-top-color:#bbbbbb;}
#title{left:215px;top:16px;width:240px;height:39px;box-sizing:border-box;border:2px solid #6a8db0;background:#fff;}
#ttext{left:219.4px;top:17.2px;font:bold 23.7px "Liberation Sans",sans-serif;color:#000;-webkit-text-stroke:0.12px #000;white-space:nowrap;transform-origin:0 0;transform:scaleX(0.957);line-height:40px;}
.t{position:absolute;font:22.2px "Liberation Serif",serif;color:#363636;line-height:40px;white-space:nowrap;}
.yl{right:619.3px;}
.xl{top:312px;}
#legend{left:153px;top:355px;width:362px;height:34px;box-sizing:border-box;background:rgba(255,255,255,0.18);border:1px solid rgba(255,255,255,0.25);}
#cap{position:absolute;left:8.6px;top:417.2px;width:552px;font:22.2px "Liberation Serif",serif;color:#000;line-height:24.6px;text-align:justify;}
svg{position:absolute;left:0;top:0;}
</style></head><body>
<div class="abs" id="topline"></div>
<div class="abs" id="chart"></div>
<div class="abs" id="title"></div>
<div class="abs" id="ttext">Visucal Analog Score</div>
<div class="t yl" style="top:55px">100</div>
<div class="t yl" style="top:101px">80</div>
<div class="t yl" style="top:147px">60</div>
<div class="t yl" style="top:193px">40</div>
<div class="t yl" style="top:239px">20</div>
<div class="t yl" style="top:285px">0</div>
<div class="abs" id="legend"></div>
<svg width="671" height="468" viewBox="0 0 671 468">
<rect x="72" y="73" width="573" height="1" fill="#ebebeb"/>
<rect x="72" y="119" width="573" height="1" fill="#dcdcdc"/>
<rect x="72" y="165" width="573" height="1" fill="#c6c6c6"/>
<rect x="72" y="211" width="573" height="1" fill="#aaaaaa"/>
<rect x="72" y="257" width="573" height="1" fill="#8e8e8e"/>
<rect x="71" y="303" width="574" height="2" fill="#262626"/>
<polyline points="142.5,148.6 286.5,177.3 429.5,223.4 572.5,236.3" fill="none" stroke="#6b97c9" stroke-width="3.4" stroke-linejoin="round" stroke-linecap="butt"/>
<polyline points="142.5,153.4 286.5,175.3 429.5,196.5 572.5,218.8" fill="none" stroke="#e9844a" stroke-width="3.4" stroke-linejoin="round" stroke-linecap="butt"/>
<line x1="142.5" y1="109.7" x2="142.5" y2="187.4" stroke="#4a72a0" stroke-width="1"/><line x1="138.5" y1="109.7" x2="146.5" y2="109.7" stroke="#465a70" stroke-width="1"/><line x1="138.5" y1="187.4" x2="146.5" y2="187.4" stroke="#465a70" stroke-width="1"/>
<line x1="286.5" y1="138.6" x2="286.5" y2="216.4" stroke="#4a72a0" stroke-width="1"/><line x1="282.5" y1="138.6" x2="290.5" y2="138.6" stroke="#465a70" stroke-width="1"/><line x1="282.5" y1="216.4" x2="290.5" y2="216.4" stroke="#465a70" stroke-width="1"/>
<line x1="429.5" y1="185.7" x2="429.5" y2="261.2" stroke="#4a72a0" stroke-width="1"/><line x1="425.5" y1="185.7" x2="433.5" y2="185.7" stroke="#465a70" stroke-width="1"/><line x1="425.5" y1="261.2" x2="433.5" y2="261.2" stroke="#465a70" stroke-width="1"/>
<line x1="572.5" y1="197.5" x2="572.5" y2="275.0" stroke="#4a72a0" stroke-width="1"/><line x1="568.5" y1="197.5" x2="576.5" y2="197.5" stroke="#465a70" stroke-width="1"/><line x1="568.5" y1="275.0" x2="576.5" y2="275.0" stroke="#465a70" stroke-width="1"/>
<line x1="142.5" y1="123.6" x2="142.5" y2="182.5" stroke="#c06a3a" stroke-width="1"/><line x1="138.5" y1="123.6" x2="146.5" y2="123.6" stroke="#7a5a48" stroke-width="1"/><line x1="138.5" y1="182.5" x2="146.5" y2="182.5" stroke="#7a5a48" stroke-width="1"/>
<line x1="286.5" y1="145.5" x2="286.5" y2="205.4" stroke="#c06a3a" stroke-width="1"/><line x1="282.5" y1="145.5" x2="290.5" y2="145.5" stroke="#7a5a48" stroke-width="1"/><line x1="282.5" y1="205.4" x2="290.5" y2="205.4" stroke="#7a5a48" stroke-width="1"/>
<line x1="429.5" y1="164.5" x2="429.5" y2="229.2" stroke="#c06a3a" stroke-width="1"/><line x1="425.5" y1="164.5" x2="433.5" y2="164.5" stroke="#7a5a48" stroke-width="1"/><line x1="425.5" y1="229.2" x2="433.5" y2="229.2" stroke="#7a5a48" stroke-width="1"/>
<line x1="572.5" y1="187.3" x2="572.5" y2="252.5" stroke="#c06a3a" stroke-width="1"/><line x1="568.5" y1="187.3" x2="576.5" y2="187.3" stroke="#7a5a48" stroke-width="1"/><line x1="568.5" y1="252.5" x2="576.5" y2="252.5" stroke="#7a5a48" stroke-width="1"/>
<rect x="176" y="369" width="34" height="3" fill="#6b97c6"/>
<rect x="339.5" y="369" width="34" height="3" fill="#ea8548"/>
</svg>
<div class="t xl" style="left:90.1px;letter-spacing:-0.49px">BASELINE</div>
<div class="t xl" style="left:232.4px;letter-spacing:-0.27px">4TH WEEK</div>
<div class="t xl" style="left:376.2px;letter-spacing:-0.3px">8TH WEEK</div>
<div class="t xl" style="left:513.1px;letter-spacing:-0.41px">12TH WEEK</div>
<div class="t" style="left:213.3px;top:351px">Gabapentin</div>
<div class="t" style="left:375.6px;top:351px">Amitriptyline</div>
<div id="cap">Figure 2: Comparison of change in visual analog score during treatment duration</div>
</body></html>
